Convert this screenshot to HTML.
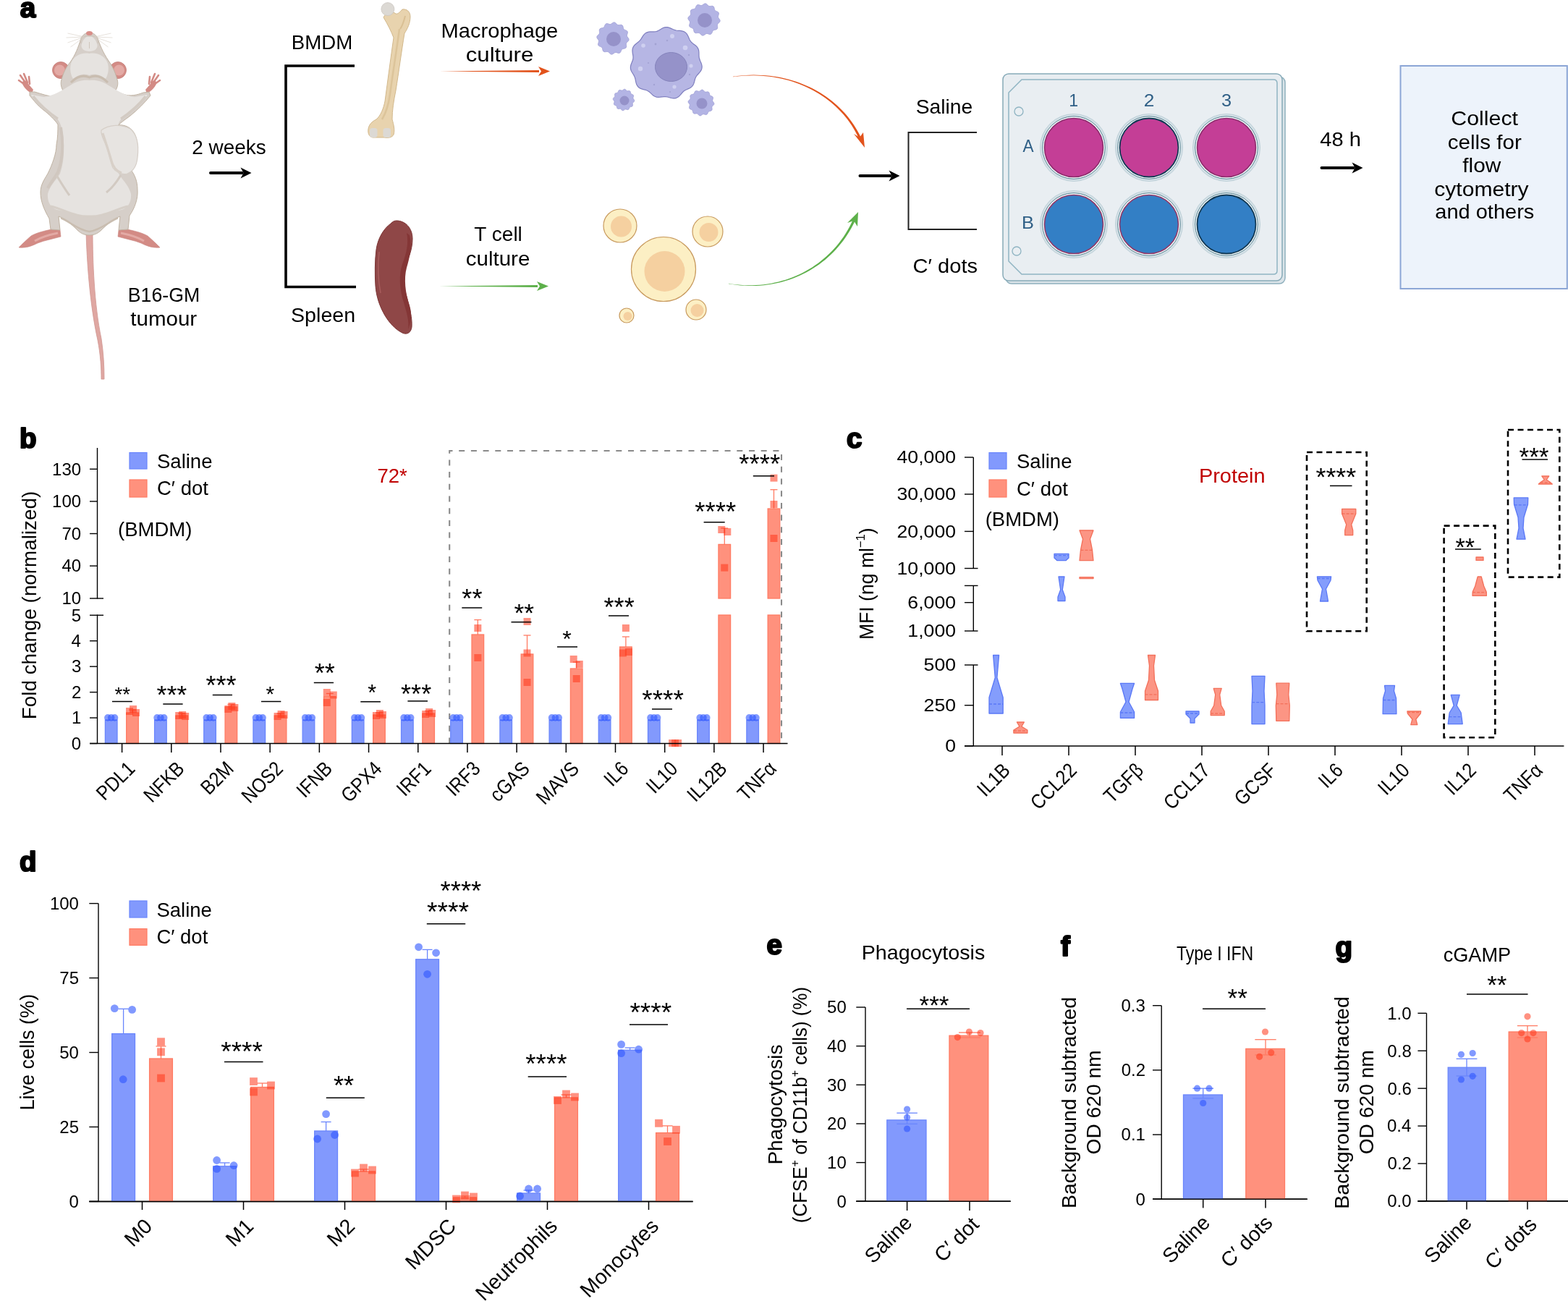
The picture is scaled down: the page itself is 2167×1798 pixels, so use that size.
<!DOCTYPE html>
<html><head><meta charset="utf-8"><title>Figure</title>
<style>html,body{margin:0;padding:0;background:#fff;} svg{display:block;} text{font-family:'Liberation Sans', Arial, Helvetica, sans-serif;}</style>
</head><body>
<svg width="2167" height="1798" viewBox="0 0 2167 1798">
<rect width="2167" height="1798" fill="#fff"/>
<text x="27.80" y="24.00" font-size="38.5" font-weight="bold" stroke="#000" stroke-width="2.2" stroke-linejoin="round">a</text>
<path d="M119,320 C120,360 124,420 135,470 C139,490 140,510 140,524 L144,524 C144,505 143,488 140,468 C130,420 128,360 128,320 Z" fill="#dfa7a2" stroke="#cf9590" stroke-width="0.8" />
<circle cx="84.00" cy="97.00" r="11.50" fill="#d38b85" stroke="#c47d78" stroke-width="0.8" />
<circle cx="163.00" cy="97.00" r="11.50" fill="#d38b85" stroke="#c47d78" stroke-width="0.8" />
<circle cx="82.50" cy="97.00" r="7.50" fill="#e3aaa5" />
<circle cx="164.50" cy="97.00" r="7.50" fill="#e3aaa5" />
<path d="M44,129 C38,126 33,121 31,116 C30,112 34,110 37,113 L40,117 L46,124 Z" fill="#d38b85" />
<line x1="33.00" y1="116.00" x2="26.00" y2="111.00" stroke="#d38b85" stroke-width="2.6" stroke-linecap="round"/>
<line x1="35.00" y1="114.00" x2="28.00" y2="104.00" stroke="#d38b85" stroke-width="2.6" stroke-linecap="round"/>
<line x1="38.00" y1="114.00" x2="33.00" y2="102.00" stroke="#d38b85" stroke-width="2.6" stroke-linecap="round"/>
<line x1="41.00" y1="116.00" x2="40.00" y2="106.00" stroke="#d38b85" stroke-width="2.6" stroke-linecap="round"/>
<path d="M203,129 C209,126 214,121 216,116 C217,112 213,110 210,113 L207,117 L201,124 Z" fill="#d38b85" />
<line x1="214.00" y1="116.00" x2="221.00" y2="111.00" stroke="#d38b85" stroke-width="2.6" stroke-linecap="round"/>
<line x1="212.00" y1="114.00" x2="219.00" y2="104.00" stroke="#d38b85" stroke-width="2.6" stroke-linecap="round"/>
<line x1="209.00" y1="114.00" x2="214.00" y2="102.00" stroke="#d38b85" stroke-width="2.6" stroke-linecap="round"/>
<line x1="206.00" y1="116.00" x2="207.00" y2="106.00" stroke="#d38b85" stroke-width="2.6" stroke-linecap="round"/>
<path d="M71,317 L83,318 L84,327 C74,330 62,332 52,336 C44,340 36,343 26,342 C31,337 37,331 43,326 C52,321 62,319 71,317 Z" fill="#d38b85" stroke="#c88580" stroke-width="0.6" />
<path d="M176,317 L164,318 L163,327 C173,330 185,332 195,336 C203,340 211,343 221,342 C216,337 210,331 204,326 C195,321 185,319 176,317 Z" fill="#d38b85" stroke="#c88580" stroke-width="0.6" />
<path d="M80,322 C70,324 58,327 48,333" fill="none" stroke="#e3aaa5" stroke-width="3" />
<path d="M167,322 C177,324 189,327 199,333" fill="none" stroke="#e3aaa5" stroke-width="3" />
<path d="M123.5,45 C128,45 133,48 135,53 C138,62 142,72 150,84 C156,92 160,102 162,110 C164,116 162,122 159,126 L170,130 C180,134 190,131 198,128 L206,127 L208,132 C200,142 190,152 180,160 C172,166 166,170 164,173 C172,172 184,176 188,190 C192,205 191,225 182,236 C186,242 190,250 190,262 C191,275 186,288 179,298 L177,317 L164,318 L166,299 C158,302 148,310 140,318 C134,324 128,325 123.5,325 C119,325 113,324 107,318 C99,310 89,302 81,299 L83,318 L70,317 L68,302 C61,290 56,278 56,266 C56,256 60,250 66,240 C72,228 78,212 78,200 C80,190 80,180 80,172 C76,166 68,158 60,152 C52,146 46,138 41,132 L41,127 L48,127 C58,130 66,133 77,134 L88,127 C85,122 83,116 85,110 C87,102 91,93 97,86 C104,76 108,66 112,53 C114,48 119,45 123.5,45 Z" fill="#d6cfc9" stroke="#c0b3a3" stroke-width="1" />
<path d="M123.5,50 C129,50 133,56 134.5,62 C135,67 131,71 123.5,71 C116,71 112,67 112.5,62 C114,56 118,50 123.5,50 Z" fill="#e6e3e0" />
<path d="M123.5,74 C135,72 146,78 149,88 C151,96 149,104 146,109 C140,104 131,101 123.5,104 C116,101 107,104 101,109 C98,104 96,96 98,88 C101,78 112,72 123.5,74 Z" fill="#e6e3e0" />
<path d="M97,118 C106,112 115,110 123.5,111 C132,110 141,112 150,118 C160,124 172,132 186,134 C194,133 200,131 204,131 C197,140 186,150 174,158 C166,164 162,172 160,186 C158,205 158,222 164,240 C170,250 178,256 181,268 C182,280 176,288 168,290 C155,292 142,298 123.5,299 C105,298 92,292 79,290 C71,288 65,280 66,268 C69,256 77,250 83,240 C89,222 89,205 87,186 C85,172 81,164 73,158 C61,150 50,140 43,131 C47,131 53,133 61,134 C75,132 87,124 97,118 Z" fill="#e6e3e0" />
<path d="M98,114 C106,106 115,103 123.5,107 C132,103 141,106 149,114" fill="none" stroke="#c9bdb0" stroke-width="3" />
<path d="M112,60 C110,52 118,48 123.5,50 C129,48 137,52 135,60" fill="none" stroke="#cfc6bc" stroke-width="1.5" />
<line x1="123.50" y1="58.00" x2="123.50" y2="67.00" stroke="#cfc6bc" stroke-width="1" />
<path d="M46,133 C56,146 68,156 80,164" fill="none" stroke="#d3cbc3" stroke-width="3" />
<path d="M201,133 C191,146 179,156 167,164" fill="none" stroke="#d3cbc3" stroke-width="3" />
<path d="M84,176 C88,200 86,222 80,238 C76,246 70,252 66,260" fill="none" stroke="#d0c7bf" stroke-width="4" />
<path d="M78,242 C84,252 90,262 96,270" fill="none" stroke="#d2cac2" stroke-width="3" />
<path d="M167,242 C161,252 155,260 147,266" fill="none" stroke="#d2cac2" stroke-width="3" />
<path d="M70,285 C90,290 105,300 123.5,299 C142,300 157,290 177,285" fill="none" stroke="#d6cfc8" stroke-width="3" />
<path d="M84,301 C96,306 108,318 123.5,320 C139,318 151,306 163,301" fill="none" stroke="#c9bdb0" stroke-width="2.5" />
<path d="M140,180 C150,172 168,171 180,178 C190,186 192,202 190,218 C189,228 186,236 176,240 C168,242 160,238 156,232 C152,222 150,210 146,200 C143,192 139,186 140,180 Z" fill="#e7e4e1" stroke="#d6cfc8" stroke-width="1.2" />
<path d="M142,184 C146,196 150,208 154,222 C156,230 160,236 168,239" fill="none" stroke="#d8d0c8" stroke-width="3" />
<ellipse cx="123.5" cy="46" rx="4.5" ry="3" fill="#d88e88"/>
<line x1="116.50" y1="51.00" x2="93.50" y2="46.00" stroke="#d5ccc2" stroke-width="0.6" />
<line x1="116.50" y1="51.00" x2="91.50" y2="52.00" stroke="#d5ccc2" stroke-width="0.6" />
<line x1="116.50" y1="51.00" x2="93.50" y2="59.00" stroke="#d5ccc2" stroke-width="0.6" />
<line x1="116.50" y1="51.00" x2="97.50" y2="65.00" stroke="#d5ccc2" stroke-width="0.6" />
<line x1="130.50" y1="51.00" x2="153.50" y2="46.00" stroke="#d5ccc2" stroke-width="0.6" />
<line x1="130.50" y1="51.00" x2="155.50" y2="52.00" stroke="#d5ccc2" stroke-width="0.6" />
<line x1="130.50" y1="51.00" x2="153.50" y2="59.00" stroke="#d5ccc2" stroke-width="0.6" />
<line x1="130.50" y1="51.00" x2="149.50" y2="65.00" stroke="#d5ccc2" stroke-width="0.6" />
<text x="176.81" y="416.70" font-size="27.5" textLength="99.38" lengthAdjust="spacingAndGlyphs" >B16-GM</text>
<text x="180.25" y="450.00" font-size="27.5" textLength="91.94" lengthAdjust="spacingAndGlyphs" >tumour</text>
<text x="265.30" y="212.70" font-size="27.5" textLength="102.41" lengthAdjust="spacingAndGlyphs" >2 weeks</text>
<line x1="291.00" y1="239.00" x2="334.50" y2="239.00" stroke="#000" stroke-width="4" stroke-linecap="round"/>
<path d="M347.5,239 L332.5,231.5 L336.5,239 L332.5,246.5 Z" fill="#000" />
<path d="M490,91 H395 V396.5 H492" fill="none" stroke="#000" stroke-width="3.6" />
<text x="402.73" y="67.70" font-size="27.5" textLength="84.54" lengthAdjust="spacingAndGlyphs" >BMDM</text>
<text x="402.00" y="445.00" font-size="27.5" textLength="89.16" lengthAdjust="spacingAndGlyphs" >Spleen</text>
<path d="M556,13 C562,12 567,16 567,23 C567,32 563,40 559,46 C555,70 551,100 547,125 C544,140 542,152 542,165 C544,172 546,180 544,186 C542,190 537,191 531,190 L515,190 C510,189 508,184 509,178 C510,172 514,168 520,165 C526,160 530,150 532,140 C536,110 540,80 544,52 C541,44 536,34 530,24 C534,16 542,15 547,19 C550,20 553,16 556,13 Z" fill="#e8d3ae" stroke="#d2b88c" stroke-width="1" />
<path d="M552,40 C548,70 543,100 539,130 C537,145 534,155 528,165" fill="none" stroke="#dcc49a" stroke-width="2.5" />
<path d="M560,22 C558,30 556,36 553,40" fill="none" stroke="#d9bf93" stroke-width="2" />
<circle cx="535.90" cy="12.60" r="9.00" fill="#dcd9d4" stroke="#cbc7c1" stroke-width="0.8" />
<rect x="511" y="177" width="10.5" height="13" rx="3.5" fill="#dcd9d4"/>
<rect x="529.5" y="177" width="10.5" height="13" rx="3.5" fill="#dcd9d4"/>
<path d="M548,305 C560,305 570,315 570,330 C570,345 564,358 560,368 C556,378 557,395 562,410 C566,425 570,440 569,452 C568,460 562,463 556,460 C546,455 538,446 532,436 C525,424 520,410 519,395 C518,380 518,360 520,345 C522,330 530,316 540,309 C543,306 545,305 548,305 Z" fill="#8f4747" stroke="#7b3434" stroke-width="1" />
<path d="M562,322 C565,335 562,350 556,365 C551,380 552,400 558,418 C562,432 566,445 564,455 C568,446 570,436 566,422 C560,405 558,385 562,370 C566,356 570,340 566,325 Z" fill="#843636" />
<path d="M524,348 C522,365 522,385 526,405" fill="none" stroke="#a85c5c" stroke-width="1.5" />
<text x="609.61" y="52.00" font-size="27.5" textLength="161.68" lengthAdjust="spacingAndGlyphs" >Macrophage</text>
<text x="643.67" y="85.00" font-size="27.5" textLength="93.71" lengthAdjust="spacingAndGlyphs" >culture</text>
<text x="655.37" y="333.00" font-size="27.5" textLength="66.49" lengthAdjust="spacingAndGlyphs" >T cell</text>
<text x="643.75" y="367.00" font-size="27.5" textLength="88.56" lengthAdjust="spacingAndGlyphs" >culture</text>
<path d="M608,98.5 L745,97 L745,100 Z" fill="#e2531c" />
<path d="M760,98.5 L744,92 L748,98.5 L744,105 Z" fill="#e2531c" />
<path d="M607,395.5 L743,394 L743,397 Z" fill="#5db04a" />
<path d="M758,395.5 L742,389 L746,395.5 L742,402 Z" fill="#5db04a" />
<path d="M968.93,87.00 L969.81,89.61 L970.19,92.27 L969.87,94.90 L968.84,97.38 L967.26,99.66 L965.40,101.75 L963.60,103.74 L962.10,105.75 L961.01,107.90 L960.26,110.24 L959.64,112.74 L958.88,115.25 L957.78,117.59 L956.20,119.60 L954.19,121.19 L951.89,122.42 L949.52,123.46 L947.26,124.53 L945.22,125.84 L943.39,127.52 L941.66,129.51 L939.87,131.63 L937.88,133.57 L935.61,135.05 L933.09,135.86 L930.41,135.96 L927.68,135.49 L925.02,134.74 L922.46,134.01 L920.00,133.58 L917.56,133.54 L915.08,133.82 L912.52,134.20 L909.93,134.39 L907.37,134.13 L904.96,133.29 L902.76,131.90 L900.78,130.16 L898.93,128.34 L897.07,126.72 L895.04,125.44 L892.74,124.53 L890.18,123.83 L887.49,123.11 L884.88,122.12 L882.61,120.67 L880.84,118.71 L879.62,116.34 L878.86,113.71 L878.35,111.04 L877.82,108.49 L877.05,106.12 L875.95,103.91 L874.60,101.75 L873.21,99.54 L872.06,97.19 L871.42,94.69 L871.41,92.11 L871.98,89.52 L872.93,87.00 L873.94,84.59 L874.71,82.24 L875.06,79.88 L874.94,77.42 L874.53,74.82 L874.10,72.09 L873.98,69.33 L874.40,66.70 L875.48,64.31 L877.12,62.24 L879.12,60.45 L881.22,58.82 L883.17,57.18 L884.86,55.36 L886.31,53.31 L887.66,51.08 L889.11,48.85 L890.84,46.86 L892.94,45.33 L895.39,44.38 L898.08,43.97 L900.82,43.92 L903.47,43.95 L905.95,43.75 L908.25,43.13 L910.45,42.06 L912.66,40.68 L914.98,39.26 L917.44,38.15 L920.00,37.58 L922.59,37.67 L925.11,38.34 L927.54,39.38 L929.89,40.49 L932.22,41.40 L934.62,41.99 L937.17,42.28 L939.83,42.46 L942.52,42.81 L945.07,43.58 L947.32,44.93 L949.16,46.86 L950.59,49.22 L951.72,51.77 L952.77,54.23 L953.95,56.43 L955.44,58.30 L957.29,59.91 L959.38,61.43 L961.49,63.04 L963.36,64.91 L964.75,67.08 L965.58,69.51 L965.90,72.09 L965.94,74.69 L965.96,77.23 L966.24,79.68 L966.88,82.07 L967.85,84.49 Z" fill="#b6b6e4" stroke="#7f7fbf" stroke-width="1.2" />
<circle cx="889.00" cy="63.00" r="2.80" fill="#cfd0f0" />
<circle cx="929.00" cy="50.00" r="3.00" fill="#cfd0f0" />
<circle cx="947.00" cy="66.00" r="3.30" fill="#cfd0f0" />
<circle cx="885.00" cy="95.00" r="3.20" fill="#cfd0f0" />
<circle cx="955.00" cy="91.00" r="2.60" fill="#cfd0f0" />
<circle cx="932.00" cy="120.00" r="2.60" fill="#cfd0f0" />
<circle cx="906.00" cy="61.00" r="1.40" fill="#a3a3d3" />
<circle cx="922.00" cy="56.00" r="1.30" fill="#a3a3d3" />
<circle cx="896.00" cy="87.00" r="1.10" fill="#a3a3d3" />
<circle cx="952.00" cy="76.00" r="1.20" fill="#a3a3d3" />
<circle cx="953.00" cy="103.00" r="1.20" fill="#a3a3d3" />
<circle cx="904.00" cy="117.00" r="1.20" fill="#a3a3d3" />
<circle cx="926.00" cy="127.00" r="1.10" fill="#a3a3d3" />
<ellipse cx="927.5" cy="92.5" rx="22" ry="20" fill="#9592c9" stroke="#8483bb" stroke-width="1"/>
<path d="M868.60,53.00 L869.11,54.16 L869.12,55.32 L868.60,56.42 L867.70,57.40 L866.70,58.28 L865.89,59.14 L865.45,60.08 L865.39,61.19 L865.57,62.46 L865.71,63.80 L865.57,65.06 L864.99,66.07 L863.99,66.76 L862.73,67.16 L861.42,67.42 L860.29,67.76 L859.44,68.36 L858.84,69.29 L858.35,70.48 L857.80,71.71 L857.05,72.73 L856.05,73.32 L854.84,73.41 L853.54,73.13 L852.28,72.70 L851.13,72.43 L850.09,72.52 L849.10,73.02 L848.09,73.81 L847.00,74.60 L845.84,75.11 L844.68,75.12 L843.58,74.60 L842.60,73.70 L841.72,72.70 L840.86,71.89 L839.92,71.45 L838.81,71.39 L837.54,71.57 L836.20,71.71 L834.94,71.57 L833.93,70.99 L833.24,69.99 L832.84,68.73 L832.58,67.42 L832.24,66.29 L831.64,65.44 L830.71,64.84 L829.52,64.35 L828.29,63.80 L827.27,63.05 L826.68,62.05 L826.59,60.84 L826.87,59.54 L827.30,58.28 L827.57,57.13 L827.48,56.09 L826.98,55.10 L826.19,54.09 L825.40,53.00 L824.89,51.84 L824.88,50.68 L825.40,49.58 L826.30,48.60 L827.30,47.72 L828.11,46.86 L828.55,45.92 L828.61,44.81 L828.43,43.54 L828.29,42.20 L828.43,40.94 L829.01,39.93 L830.01,39.24 L831.27,38.84 L832.58,38.58 L833.71,38.24 L834.56,37.64 L835.16,36.71 L835.65,35.52 L836.20,34.29 L836.95,33.27 L837.95,32.68 L839.16,32.59 L840.46,32.87 L841.72,33.30 L842.87,33.57 L843.91,33.48 L844.90,32.98 L845.91,32.19 L847.00,31.40 L848.16,30.89 L849.32,30.88 L850.42,31.40 L851.40,32.30 L852.28,33.30 L853.14,34.11 L854.08,34.55 L855.19,34.61 L856.46,34.43 L857.80,34.29 L859.06,34.43 L860.07,35.01 L860.76,36.01 L861.16,37.27 L861.42,38.58 L861.76,39.71 L862.36,40.56 L863.29,41.16 L864.48,41.65 L865.71,42.20 L866.73,42.95 L867.32,43.95 L867.41,45.16 L867.13,46.46 L866.70,47.72 L866.43,48.87 L866.52,49.91 L867.02,50.90 L867.81,51.91 Z" fill="#b3b4e4" stroke="#a0a0d6" stroke-width="0.8" />
<circle cx="848.00" cy="54.00" r="10.00" fill="#9592c9" />
<path d="M994.60,27.00 L995.11,28.16 L995.12,29.32 L994.60,30.42 L993.70,31.40 L992.70,32.28 L991.89,33.14 L991.45,34.08 L991.39,35.19 L991.57,36.46 L991.71,37.80 L991.57,39.06 L990.99,40.07 L989.99,40.76 L988.73,41.16 L987.42,41.42 L986.29,41.76 L985.44,42.36 L984.84,43.29 L984.35,44.48 L983.80,45.71 L983.05,46.73 L982.05,47.32 L980.84,47.41 L979.54,47.13 L978.28,46.70 L977.13,46.43 L976.09,46.52 L975.10,47.02 L974.09,47.81 L973.00,48.60 L971.84,49.11 L970.68,49.12 L969.58,48.60 L968.60,47.70 L967.72,46.70 L966.86,45.89 L965.92,45.45 L964.81,45.39 L963.54,45.57 L962.20,45.71 L960.94,45.57 L959.93,44.99 L959.24,43.99 L958.84,42.73 L958.58,41.42 L958.24,40.29 L957.64,39.44 L956.71,38.84 L955.52,38.35 L954.29,37.80 L953.27,37.05 L952.68,36.05 L952.59,34.84 L952.87,33.54 L953.30,32.28 L953.57,31.13 L953.48,30.09 L952.98,29.10 L952.19,28.09 L951.40,27.00 L950.89,25.84 L950.88,24.68 L951.40,23.58 L952.30,22.60 L953.30,21.72 L954.11,20.86 L954.55,19.92 L954.61,18.81 L954.43,17.54 L954.29,16.20 L954.43,14.94 L955.01,13.93 L956.01,13.24 L957.27,12.84 L958.58,12.58 L959.71,12.24 L960.56,11.64 L961.16,10.71 L961.65,9.52 L962.20,8.29 L962.95,7.27 L963.95,6.68 L965.16,6.59 L966.46,6.87 L967.72,7.30 L968.87,7.57 L969.91,7.48 L970.90,6.98 L971.91,6.19 L973.00,5.40 L974.16,4.89 L975.32,4.88 L976.42,5.40 L977.40,6.30 L978.28,7.30 L979.14,8.11 L980.08,8.55 L981.19,8.61 L982.46,8.43 L983.80,8.29 L985.06,8.43 L986.07,9.01 L986.76,10.01 L987.16,11.27 L987.42,12.58 L987.76,13.71 L988.36,14.56 L989.29,15.16 L990.48,15.65 L991.71,16.20 L992.73,16.95 L993.32,17.95 L993.41,19.16 L993.13,20.46 L992.70,21.72 L992.43,22.87 L992.52,23.91 L993.02,24.90 L993.81,25.91 Z" fill="#b3b4e4" stroke="#a0a0d6" stroke-width="0.8" />
<circle cx="974.00" cy="28.00" r="10.00" fill="#9592c9" />
<path d="M876.40,138.00 L876.74,138.77 L876.74,139.55 L876.40,140.28 L875.80,140.93 L875.13,141.52 L874.59,142.09 L874.30,142.72 L874.26,143.46 L874.38,144.31 L874.47,145.20 L874.38,146.04 L873.99,146.71 L873.33,147.17 L872.48,147.44 L871.61,147.61 L870.86,147.84 L870.29,148.24 L869.89,148.86 L869.57,149.65 L869.20,150.47 L868.70,151.15 L868.03,151.54 L867.22,151.61 L866.36,151.42 L865.52,151.13 L864.75,150.95 L864.06,151.01 L863.40,151.35 L862.73,151.87 L862.00,152.40 L861.23,152.74 L860.45,152.74 L859.72,152.40 L859.07,151.80 L858.48,151.13 L857.91,150.59 L857.28,150.30 L856.54,150.26 L855.69,150.38 L854.80,150.47 L853.96,150.38 L853.29,149.99 L852.83,149.33 L852.56,148.48 L852.39,147.61 L852.16,146.86 L851.76,146.29 L851.14,145.89 L850.35,145.57 L849.53,145.20 L848.85,144.70 L848.46,144.03 L848.39,143.22 L848.58,142.36 L848.87,141.52 L849.05,140.75 L848.99,140.06 L848.65,139.40 L848.13,138.73 L847.60,138.00 L847.26,137.23 L847.26,136.45 L847.60,135.72 L848.20,135.07 L848.87,134.48 L849.41,133.91 L849.70,133.28 L849.74,132.54 L849.62,131.69 L849.53,130.80 L849.62,129.96 L850.01,129.29 L850.67,128.83 L851.52,128.56 L852.39,128.39 L853.14,128.16 L853.71,127.76 L854.11,127.14 L854.43,126.35 L854.80,125.53 L855.30,124.85 L855.97,124.46 L856.78,124.39 L857.64,124.58 L858.48,124.87 L859.25,125.05 L859.94,124.99 L860.60,124.65 L861.27,124.13 L862.00,123.60 L862.77,123.26 L863.55,123.26 L864.28,123.60 L864.93,124.20 L865.52,124.87 L866.09,125.41 L866.72,125.70 L867.46,125.74 L868.31,125.62 L869.20,125.53 L870.04,125.62 L870.71,126.01 L871.17,126.67 L871.44,127.52 L871.61,128.39 L871.84,129.14 L872.24,129.71 L872.86,130.11 L873.65,130.43 L874.47,130.80 L875.15,131.30 L875.54,131.97 L875.61,132.78 L875.42,133.64 L875.13,134.48 L874.95,135.25 L875.01,135.94 L875.35,136.60 L875.87,137.27 Z" fill="#b3b4e4" stroke="#a0a0d6" stroke-width="0.8" />
<circle cx="863.00" cy="139.00" r="6.50" fill="#9592c9" />
<path d="M986.49,142.00 L986.90,142.94 L986.90,143.88 L986.48,144.77 L985.76,145.56 L984.95,146.27 L984.29,146.97 L983.94,147.73 L983.89,148.63 L984.03,149.66 L984.15,150.74 L984.03,151.76 L983.56,152.58 L982.76,153.14 L981.73,153.46 L980.68,153.68 L979.76,153.95 L979.07,154.43 L978.58,155.19 L978.19,156.15 L977.74,157.15 L977.14,157.97 L976.32,158.45 L975.34,158.52 L974.29,158.29 L973.27,157.95 L972.34,157.73 L971.50,157.80 L970.70,158.21 L969.88,158.85 L969.00,159.49 L968.06,159.90 L967.12,159.90 L966.23,159.48 L965.44,158.76 L964.73,157.95 L964.03,157.29 L963.27,156.94 L962.37,156.89 L961.34,157.03 L960.26,157.15 L959.24,157.03 L958.42,156.56 L957.86,155.76 L957.54,154.73 L957.32,153.68 L957.05,152.76 L956.57,152.07 L955.81,151.58 L954.85,151.19 L953.85,150.74 L953.03,150.14 L952.55,149.32 L952.48,148.34 L952.71,147.29 L953.05,146.27 L953.27,145.34 L953.20,144.50 L952.79,143.70 L952.15,142.88 L951.51,142.00 L951.10,141.06 L951.10,140.12 L951.52,139.23 L952.24,138.44 L953.05,137.73 L953.71,137.03 L954.06,136.27 L954.11,135.37 L953.97,134.34 L953.85,133.26 L953.97,132.24 L954.44,131.42 L955.24,130.86 L956.27,130.54 L957.32,130.32 L958.24,130.05 L958.93,129.57 L959.42,128.81 L959.81,127.85 L960.26,126.85 L960.86,126.03 L961.68,125.55 L962.66,125.48 L963.71,125.71 L964.73,126.05 L965.66,126.27 L966.50,126.20 L967.30,125.79 L968.12,125.15 L969.00,124.51 L969.94,124.10 L970.88,124.10 L971.77,124.52 L972.56,125.24 L973.27,126.05 L973.97,126.71 L974.73,127.06 L975.63,127.11 L976.66,126.97 L977.74,126.85 L978.76,126.97 L979.58,127.44 L980.14,128.24 L980.46,129.27 L980.68,130.32 L980.95,131.24 L981.43,131.93 L982.19,132.42 L983.15,132.81 L984.15,133.26 L984.97,133.86 L985.45,134.68 L985.52,135.66 L985.29,136.71 L984.95,137.73 L984.73,138.66 L984.80,139.50 L985.21,140.30 L985.85,141.12 Z" fill="#b3b4e4" stroke="#a0a0d6" stroke-width="0.8" />
<circle cx="970.00" cy="143.00" r="7.50" fill="#9592c9" />
<circle cx="917.00" cy="372.00" r="44.50" fill="#fcefc4" stroke="#c89a5e" stroke-width="1.2" />
<circle cx="918.50" cy="375.00" r="28.00" fill="#f5d0a0" />
<circle cx="857.00" cy="312.00" r="23.00" fill="#fcefc4" stroke="#c89a5e" stroke-width="1.2" />
<circle cx="858.50" cy="313.00" r="14.50" fill="#f5d0a0" />
<circle cx="978.00" cy="320.00" r="21.00" fill="#fcefc4" stroke="#c89a5e" stroke-width="1.2" />
<circle cx="979.50" cy="321.00" r="13.00" fill="#f5d0a0" />
<circle cx="866.00" cy="436.00" r="10.00" fill="#fcefc4" stroke="#c89a5e" stroke-width="1.2" />
<circle cx="867.50" cy="437.00" r="6.00" fill="#f5d0a0" />
<circle cx="962.00" cy="428.00" r="14.00" fill="#fcefc4" stroke="#c89a5e" stroke-width="1.2" />
<circle cx="963.50" cy="429.00" r="9.00" fill="#f5d0a0" />
<path d="M1013.03,106.20 L1018.79,105.49 L1024.52,104.96 L1030.21,104.60 L1035.86,104.40 L1041.48,104.37 L1047.05,104.49 L1052.57,104.78 L1058.04,105.23 L1063.45,105.83 L1068.81,106.59 L1074.11,107.50 L1079.34,108.56 L1084.50,109.77 L1089.59,111.12 L1094.61,112.62 L1099.55,114.26 L1104.42,116.03 L1109.19,117.95 L1113.88,120.00 L1118.48,122.18 L1122.99,124.50 L1127.40,126.95 L1131.71,129.52 L1135.91,132.21 L1140.01,135.03 L1144.00,137.98 L1147.87,141.03 L1151.63,144.21 L1155.28,147.50 L1158.79,150.91 L1162.19,154.42 L1165.45,158.04 L1168.58,161.77 L1171.58,165.60 L1174.44,169.54 L1177.16,173.57 L1179.73,177.71 L1182.15,181.94 L1184.43,186.26 L1186.55,190.68 L1189.45,189.32 L1187.21,184.83 L1184.82,180.44 L1182.28,176.15 L1179.59,171.97 L1176.76,167.89 L1173.79,163.91 L1170.68,160.05 L1167.43,156.29 L1164.05,152.65 L1160.55,149.13 L1156.92,145.72 L1153.18,142.42 L1149.31,139.25 L1145.33,136.20 L1141.24,133.27 L1137.05,130.47 L1132.75,127.80 L1128.35,125.26 L1123.86,122.84 L1119.27,120.57 L1114.59,118.42 L1109.82,116.41 L1104.97,114.54 L1100.05,112.82 L1095.04,111.23 L1089.96,109.79 L1084.81,108.49 L1079.59,107.35 L1074.31,106.35 L1068.97,105.50 L1063.57,104.81 L1058.12,104.27 L1052.62,103.89 L1047.07,103.67 L1041.48,103.62 L1035.85,103.72 L1030.18,103.99 L1024.47,104.42 L1018.73,105.03 L1012.97,105.80 Z" fill="#e2531c" />
<path d="M1195,204 L1180,185 L1188,190 L1193,183 Z" fill="#e2531c" />
<path d="M1006.97,392.20 L1012.43,393.12 L1017.89,393.86 L1023.33,394.43 L1028.76,394.82 L1034.16,395.04 L1039.53,395.08 L1044.87,394.96 L1050.18,394.66 L1055.45,394.20 L1060.69,393.58 L1065.88,392.79 L1071.02,391.83 L1076.11,390.72 L1081.15,389.45 L1086.12,388.02 L1091.04,386.43 L1095.89,384.69 L1100.68,382.79 L1105.39,380.75 L1110.03,378.55 L1114.59,376.21 L1119.06,373.72 L1123.45,371.09 L1127.75,368.31 L1131.96,365.39 L1136.07,362.33 L1140.08,359.13 L1143.99,355.79 L1147.79,352.32 L1151.47,348.72 L1155.05,344.98 L1158.50,341.11 L1161.83,337.12 L1165.04,332.99 L1168.12,328.74 L1171.07,324.37 L1173.88,319.87 L1176.55,315.26 L1179.07,310.52 L1181.45,305.67 L1178.55,304.33 L1176.28,309.11 L1173.86,313.79 L1171.30,318.35 L1168.61,322.80 L1165.77,327.13 L1162.81,331.34 L1159.71,335.43 L1156.49,339.40 L1153.15,343.25 L1149.68,346.97 L1146.10,350.57 L1142.41,354.03 L1138.61,357.37 L1134.70,360.58 L1130.69,363.65 L1126.58,366.59 L1122.38,369.39 L1118.08,372.05 L1113.69,374.57 L1109.22,376.95 L1104.67,379.18 L1100.03,381.27 L1095.32,383.20 L1090.54,384.99 L1085.69,386.63 L1080.78,388.12 L1075.80,389.45 L1070.76,390.62 L1065.67,391.63 L1060.53,392.49 L1055.34,393.18 L1050.11,393.71 L1044.83,394.07 L1039.52,394.26 L1034.17,394.29 L1028.79,394.14 L1023.38,393.82 L1017.95,393.32 L1012.50,392.65 L1007.03,391.80 Z" fill="#5db04a" />
<path d="M1186,293 L1185,313 L1180,305 L1171,308 Z" fill="#5db04a" />
<line x1="1188.50" y1="243.00" x2="1230.50" y2="243.00" stroke="#000" stroke-width="4" stroke-linecap="round"/>
<path d="M1243.5,243 L1228.5,235.5 L1232.5,243 L1228.5,250.5 Z" fill="#000" />
<path d="M1350,183 H1255.5 V317 H1350" fill="none" stroke="#222" stroke-width="2" />
<text x="1265.72" y="157.00" font-size="27.5" textLength="78.54" lengthAdjust="spacingAndGlyphs" >Saline</text>
<text x="1261.52" y="377.00" font-size="27.5" textLength="89.53" lengthAdjust="spacingAndGlyphs" >C′ dots</text>
<rect x="1390.00" y="106.00" width="386.00" height="286.00" fill="#dbe4e9" stroke="#8fb0bd" stroke-width="1.5" rx="8"/>
<rect x="1386.00" y="102.00" width="386.00" height="286.00" fill="#e8edf1" stroke="#86aab8" stroke-width="1.5" rx="8"/>
<path d="M1412,110 L1760,110 Q1765,110 1765,115 L1765,374 Q1765,379 1760,379 L1412,379 L1394,361 L1394,128 Z" fill="#e9eef2" stroke="#8fb4c2" stroke-width="1.5" />
<circle cx="1408.00" cy="154.00" r="6.00" fill="none" stroke="#8fb4c2" stroke-width="1.3" />
<circle cx="1405.00" cy="347.00" r="6.00" fill="none" stroke="#8fb4c2" stroke-width="1.3" />
<circle cx="1484.00" cy="204.00" r="46.50" fill="#d3e0e6" stroke="#bfd1d9" stroke-width="1" />
<circle cx="1484.00" cy="204.00" r="43.30" fill="#f4f8fa" stroke="#4a7888" stroke-width="0.9" />
<circle cx="1484.00" cy="204.00" r="40.50" fill="#c43e96" stroke="#8e2d6d" stroke-width="1.6" />
<circle cx="1484.00" cy="310.00" r="46.50" fill="#d3e0e6" stroke="#bfd1d9" stroke-width="1" />
<circle cx="1484.00" cy="310.00" r="43.30" fill="#f4f8fa" stroke="#4a7888" stroke-width="0.9" />
<circle cx="1484.00" cy="310.00" r="40.50" fill="#337fc5" stroke="#8e3a6a" stroke-width="1.6" />
<circle cx="1588.00" cy="204.00" r="46.50" fill="#d3e0e6" stroke="#bfd1d9" stroke-width="1" />
<circle cx="1588.00" cy="204.00" r="43.30" fill="#f4f8fa" stroke="#4a7888" stroke-width="0.9" />
<circle cx="1588.00" cy="204.00" r="40.50" fill="#c43e96" stroke="#123a55" stroke-width="1.8" />
<circle cx="1588.00" cy="310.00" r="46.50" fill="#d3e0e6" stroke="#bfd1d9" stroke-width="1" />
<circle cx="1588.00" cy="310.00" r="43.30" fill="#f4f8fa" stroke="#4a7888" stroke-width="0.9" />
<circle cx="1588.00" cy="310.00" r="40.50" fill="#337fc5" stroke="#8e3a6a" stroke-width="1.6" />
<circle cx="1695.00" cy="204.00" r="46.50" fill="#d3e0e6" stroke="#bfd1d9" stroke-width="1" />
<circle cx="1695.00" cy="204.00" r="43.30" fill="#f4f8fa" stroke="#4a7888" stroke-width="0.9" />
<circle cx="1695.00" cy="204.00" r="40.50" fill="#c43e96" stroke="#8e2d6d" stroke-width="1.6" />
<circle cx="1695.00" cy="310.00" r="46.50" fill="#d3e0e6" stroke="#bfd1d9" stroke-width="1" />
<circle cx="1695.00" cy="310.00" r="43.30" fill="#f4f8fa" stroke="#4a7888" stroke-width="0.9" />
<circle cx="1695.00" cy="310.00" r="40.50" fill="#337fc5" stroke="#123a55" stroke-width="1.8" />
<text x="1477.23" y="147.00" font-size="24" fill="#2f5f86" textLength="12.90" lengthAdjust="spacingAndGlyphs" >1</text>
<text x="1580.68" y="147.00" font-size="24" fill="#2f5f86" textLength="14.65" lengthAdjust="spacingAndGlyphs" >2</text>
<text x="1688.04" y="147.00" font-size="24" fill="#2f5f86" textLength="14.08" lengthAdjust="spacingAndGlyphs" >3</text>
<text x="1413.46" y="209.50" font-size="24" fill="#2f5f86" textLength="15.09" lengthAdjust="spacingAndGlyphs" >A</text>
<text x="1411.92" y="315.50" font-size="24" fill="#2f5f86" textLength="16.92" lengthAdjust="spacingAndGlyphs" >B</text>
<text x="1824.33" y="202.00" font-size="27.5" textLength="56.55" lengthAdjust="spacingAndGlyphs" >48 h</text>
<line x1="1826.50" y1="232.00" x2="1870.50" y2="232.00" stroke="#000" stroke-width="4" stroke-linecap="round"/>
<path d="M1883.5,232 L1868.5,224.5 L1872.5,232 L1868.5,239.5 Z" fill="#000" />
<rect x="1935.50" y="91.00" width="230.30" height="308.00" fill="#edf3fb" stroke="#8ca6d6" stroke-width="2" />
<text x="2005.36" y="173.00" font-size="27.5" textLength="92.66" lengthAdjust="spacingAndGlyphs" >Collect</text>
<text x="2000.74" y="206.00" font-size="27.5" textLength="102.05" lengthAdjust="spacingAndGlyphs" >cells for</text>
<text x="2021.28" y="238.00" font-size="27.5" textLength="53.05" lengthAdjust="spacingAndGlyphs" >flow</text>
<text x="1982.22" y="271.00" font-size="27.5" textLength="130.44" lengthAdjust="spacingAndGlyphs" >cytometry</text>
<text x="1983.27" y="302.00" font-size="27.5" textLength="137.08" lengthAdjust="spacingAndGlyphs" >and others</text>
<text x="27.00" y="619.00" font-size="38.5" font-weight="bold" stroke="#000" stroke-width="2.2" stroke-linejoin="round">b</text>
<line x1="124.00" y1="648.30" x2="134.50" y2="648.30" stroke="#000" stroke-width="1.4" />
<text x="112.14" y="656.62" font-size="24" text-anchor="end" >130</text>
<line x1="124.00" y1="692.90" x2="134.50" y2="692.90" stroke="#000" stroke-width="1.4" />
<text x="112.14" y="701.22" font-size="24" text-anchor="end" >100</text>
<line x1="124.00" y1="737.50" x2="134.50" y2="737.50" stroke="#000" stroke-width="1.4" />
<text x="112.14" y="745.82" font-size="24" text-anchor="end" >70</text>
<line x1="124.00" y1="782.10" x2="134.50" y2="782.10" stroke="#000" stroke-width="1.4" />
<text x="112.14" y="790.42" font-size="24" text-anchor="end" >40</text>
<line x1="124.00" y1="827.00" x2="143.00" y2="827.00" stroke="#000" stroke-width="1.4" />
<text x="112.14" y="835.32" font-size="24" text-anchor="end" >10</text>
<line x1="124.00" y1="1027.50" x2="134.50" y2="1027.50" stroke="#000" stroke-width="1.4" />
<text x="112.14" y="1035.82" font-size="24" text-anchor="end" >0</text>
<line x1="124.00" y1="992.05" x2="134.50" y2="992.05" stroke="#000" stroke-width="1.4" />
<text x="112.37" y="1000.37" font-size="24" text-anchor="end" >1</text>
<line x1="124.00" y1="956.60" x2="134.50" y2="956.60" stroke="#000" stroke-width="1.4" />
<text x="112.41" y="964.92" font-size="24" text-anchor="end" >2</text>
<line x1="124.00" y1="921.15" x2="134.50" y2="921.15" stroke="#000" stroke-width="1.4" />
<text x="112.25" y="929.47" font-size="24" text-anchor="end" >3</text>
<line x1="124.00" y1="885.70" x2="134.50" y2="885.70" stroke="#000" stroke-width="1.4" />
<text x="111.90" y="894.02" font-size="24" text-anchor="end" >4</text>
<line x1="124.00" y1="850.25" x2="143.00" y2="850.25" stroke="#000" stroke-width="1.4" />
<text x="112.21" y="858.57" font-size="24" text-anchor="end" >5</text>
<text x="49.70" y="836.50" font-size="28.5" text-anchor="middle" textLength="315.40" lengthAdjust="spacingAndGlyphs" transform="rotate(-90 49.70 836.50)" >Fold change (normalized)</text>
<path d="M621.2 1027.5 V623 H1080 V1027.5" fill="none" stroke="#8a8a8a" stroke-width="2.1" stroke-dasharray="8 8.7"/>
<line x1="168.60" y1="1027.50" x2="168.60" y2="1040.00" stroke="#000" stroke-width="1.5" />
<rect x="145.40" y="995.00" width="16.60" height="32.50" fill="#8299fd" stroke="#6a86fc" stroke-width="1.3" />
<circle cx="148.90" cy="991.90" r="4.80" fill="rgba(45,85,255,0.6)" />
<circle cx="153.70" cy="991.90" r="4.80" fill="rgba(45,85,255,0.6)" />
<circle cx="158.50" cy="991.90" r="4.80" fill="rgba(45,85,255,0.6)" />
<rect x="174.70" y="985.00" width="16.60" height="42.50" fill="#ff917d" stroke="#ff7b63" stroke-width="1.3" />
<line x1="183.00" y1="985.00" x2="183.00" y2="981.00" stroke="#ff7b63" stroke-width="1.3" />
<line x1="178.00" y1="981.00" x2="188.00" y2="981.00" stroke="#ff7b63" stroke-width="1.3" />
<rect x="174.00" y="978.00" width="10.00" height="10.00" fill="rgba(255,55,25,0.55)" />
<rect x="179.00" y="975.00" width="10.00" height="10.00" fill="rgba(255,55,25,0.55)" />
<rect x="183.00" y="980.00" width="10.00" height="10.00" fill="rgba(255,55,25,0.55)" />
<text x="188.20" y="1064.00" font-size="28" text-anchor="end" textLength="61.64" lengthAdjust="spacingAndGlyphs" transform="rotate(-45 188.20 1064.00)" >PDL1</text>
<line x1="236.79" y1="1027.50" x2="236.79" y2="1040.00" stroke="#000" stroke-width="1.5" />
<rect x="213.59" y="995.00" width="16.60" height="32.50" fill="#8299fd" stroke="#6a86fc" stroke-width="1.3" />
<circle cx="217.09" cy="991.90" r="4.80" fill="rgba(45,85,255,0.6)" />
<circle cx="221.89" cy="991.90" r="4.80" fill="rgba(45,85,255,0.6)" />
<circle cx="226.69" cy="991.90" r="4.80" fill="rgba(45,85,255,0.6)" />
<rect x="242.89" y="989.00" width="16.60" height="38.50" fill="#ff917d" stroke="#ff7b63" stroke-width="1.3" />
<line x1="251.19" y1="989.00" x2="251.19" y2="986.00" stroke="#ff7b63" stroke-width="1.3" />
<line x1="246.19" y1="986.00" x2="256.19" y2="986.00" stroke="#ff7b63" stroke-width="1.3" />
<rect x="242.19" y="984.00" width="10.00" height="10.00" fill="rgba(255,55,25,0.55)" />
<rect x="247.19" y="983.00" width="10.00" height="10.00" fill="rgba(255,55,25,0.55)" />
<rect x="251.19" y="985.00" width="10.00" height="10.00" fill="rgba(255,55,25,0.55)" />
<text x="256.39" y="1064.00" font-size="28" text-anchor="end" textLength="65.71" lengthAdjust="spacingAndGlyphs" transform="rotate(-45 256.39 1064.00)" >NFKB</text>
<line x1="304.98" y1="1027.50" x2="304.98" y2="1040.00" stroke="#000" stroke-width="1.5" />
<rect x="281.78" y="995.00" width="16.60" height="32.50" fill="#8299fd" stroke="#6a86fc" stroke-width="1.3" />
<circle cx="285.28" cy="991.90" r="4.80" fill="rgba(45,85,255,0.6)" />
<circle cx="290.08" cy="991.90" r="4.80" fill="rgba(45,85,255,0.6)" />
<circle cx="294.88" cy="991.90" r="4.80" fill="rgba(45,85,255,0.6)" />
<rect x="311.08" y="977.00" width="16.60" height="50.50" fill="#ff917d" stroke="#ff7b63" stroke-width="1.3" />
<line x1="319.38" y1="977.00" x2="319.38" y2="973.50" stroke="#ff7b63" stroke-width="1.3" />
<line x1="314.38" y1="973.50" x2="324.38" y2="973.50" stroke="#ff7b63" stroke-width="1.3" />
<rect x="310.38" y="975.00" width="10.00" height="10.00" fill="rgba(255,55,25,0.55)" />
<rect x="315.38" y="971.00" width="10.00" height="10.00" fill="rgba(255,55,25,0.55)" />
<rect x="319.38" y="973.00" width="10.00" height="10.00" fill="rgba(255,55,25,0.55)" />
<text x="324.58" y="1064.00" font-size="28" text-anchor="end" textLength="50.66" lengthAdjust="spacingAndGlyphs" transform="rotate(-45 324.58 1064.00)" >B2M</text>
<line x1="373.17" y1="1027.50" x2="373.17" y2="1040.00" stroke="#000" stroke-width="1.5" />
<rect x="349.97" y="995.00" width="16.60" height="32.50" fill="#8299fd" stroke="#6a86fc" stroke-width="1.3" />
<circle cx="353.47" cy="991.90" r="4.80" fill="rgba(45,85,255,0.6)" />
<circle cx="358.27" cy="991.90" r="4.80" fill="rgba(45,85,255,0.6)" />
<circle cx="363.07" cy="991.90" r="4.80" fill="rgba(45,85,255,0.6)" />
<rect x="379.27" y="989.00" width="16.60" height="38.50" fill="#ff917d" stroke="#ff7b63" stroke-width="1.3" />
<line x1="387.57" y1="989.00" x2="387.57" y2="986.00" stroke="#ff7b63" stroke-width="1.3" />
<line x1="382.57" y1="986.00" x2="392.57" y2="986.00" stroke="#ff7b63" stroke-width="1.3" />
<rect x="378.57" y="985.00" width="10.00" height="10.00" fill="rgba(255,55,25,0.55)" />
<rect x="383.57" y="982.00" width="10.00" height="10.00" fill="rgba(255,55,25,0.55)" />
<rect x="387.57" y="983.00" width="10.00" height="10.00" fill="rgba(255,55,25,0.55)" />
<text x="392.77" y="1064.00" font-size="28" text-anchor="end" textLength="67.10" lengthAdjust="spacingAndGlyphs" transform="rotate(-45 392.77 1064.00)" >NOS2</text>
<line x1="441.36" y1="1027.50" x2="441.36" y2="1040.00" stroke="#000" stroke-width="1.5" />
<rect x="418.16" y="995.00" width="16.60" height="32.50" fill="#8299fd" stroke="#6a86fc" stroke-width="1.3" />
<circle cx="421.66" cy="991.90" r="4.80" fill="rgba(45,85,255,0.6)" />
<circle cx="426.46" cy="991.90" r="4.80" fill="rgba(45,85,255,0.6)" />
<circle cx="431.26" cy="991.90" r="4.80" fill="rgba(45,85,255,0.6)" />
<rect x="447.46" y="962.70" width="16.60" height="64.80" fill="#ff917d" stroke="#ff7b63" stroke-width="1.3" />
<line x1="455.76" y1="962.70" x2="455.76" y2="958.50" stroke="#ff7b63" stroke-width="1.3" />
<line x1="450.76" y1="958.50" x2="460.76" y2="958.50" stroke="#ff7b63" stroke-width="1.3" />
<rect x="446.76" y="952.00" width="10.00" height="10.00" fill="rgba(255,55,25,0.55)" />
<rect x="455.76" y="955.50" width="10.00" height="10.00" fill="rgba(255,55,25,0.55)" />
<rect x="446.76" y="966.00" width="10.00" height="10.00" fill="rgba(255,55,25,0.55)" />
<text x="460.96" y="1064.00" font-size="28" text-anchor="end" textLength="56.13" lengthAdjust="spacingAndGlyphs" transform="rotate(-45 460.96 1064.00)" >IFNB</text>
<line x1="509.55" y1="1027.50" x2="509.55" y2="1040.00" stroke="#000" stroke-width="1.5" />
<rect x="486.35" y="995.00" width="16.60" height="32.50" fill="#8299fd" stroke="#6a86fc" stroke-width="1.3" />
<circle cx="489.85" cy="991.90" r="4.80" fill="rgba(45,85,255,0.6)" />
<circle cx="494.65" cy="991.90" r="4.80" fill="rgba(45,85,255,0.6)" />
<circle cx="499.45" cy="991.90" r="4.80" fill="rgba(45,85,255,0.6)" />
<rect x="515.65" y="988.00" width="16.60" height="39.50" fill="#ff917d" stroke="#ff7b63" stroke-width="1.3" />
<line x1="523.95" y1="988.00" x2="523.95" y2="985.00" stroke="#ff7b63" stroke-width="1.3" />
<line x1="518.95" y1="985.00" x2="528.95" y2="985.00" stroke="#ff7b63" stroke-width="1.3" />
<rect x="514.95" y="984.00" width="10.00" height="10.00" fill="rgba(255,55,25,0.55)" />
<rect x="519.95" y="981.00" width="10.00" height="10.00" fill="rgba(255,55,25,0.55)" />
<rect x="523.95" y="983.00" width="10.00" height="10.00" fill="rgba(255,55,25,0.55)" />
<text x="529.15" y="1064.00" font-size="28" text-anchor="end" textLength="65.74" lengthAdjust="spacingAndGlyphs" transform="rotate(-45 529.15 1064.00)" >GPX4</text>
<line x1="577.74" y1="1027.50" x2="577.74" y2="1040.00" stroke="#000" stroke-width="1.5" />
<rect x="554.54" y="995.00" width="16.60" height="32.50" fill="#8299fd" stroke="#6a86fc" stroke-width="1.3" />
<circle cx="558.04" cy="991.90" r="4.80" fill="rgba(45,85,255,0.6)" />
<circle cx="562.84" cy="991.90" r="4.80" fill="rgba(45,85,255,0.6)" />
<circle cx="567.64" cy="991.90" r="4.80" fill="rgba(45,85,255,0.6)" />
<rect x="583.84" y="986.00" width="16.60" height="41.50" fill="#ff917d" stroke="#ff7b63" stroke-width="1.3" />
<line x1="592.14" y1="986.00" x2="592.14" y2="982.50" stroke="#ff7b63" stroke-width="1.3" />
<line x1="587.14" y1="982.50" x2="597.14" y2="982.50" stroke="#ff7b63" stroke-width="1.3" />
<rect x="583.14" y="982.00" width="10.00" height="10.00" fill="rgba(255,55,25,0.55)" />
<rect x="588.14" y="979.00" width="10.00" height="10.00" fill="rgba(255,55,25,0.55)" />
<rect x="592.14" y="981.00" width="10.00" height="10.00" fill="rgba(255,55,25,0.55)" />
<text x="597.34" y="1064.00" font-size="28" text-anchor="end" textLength="53.39" lengthAdjust="spacingAndGlyphs" transform="rotate(-45 597.34 1064.00)" >IRF1</text>
<line x1="645.93" y1="1027.50" x2="645.93" y2="1040.00" stroke="#000" stroke-width="1.5" />
<rect x="622.73" y="995.00" width="16.60" height="32.50" fill="#8299fd" stroke="#6a86fc" stroke-width="1.3" />
<circle cx="626.23" cy="991.90" r="4.80" fill="rgba(45,85,255,0.6)" />
<circle cx="631.03" cy="991.90" r="4.80" fill="rgba(45,85,255,0.6)" />
<circle cx="635.83" cy="991.90" r="4.80" fill="rgba(45,85,255,0.6)" />
<rect x="652.03" y="877.00" width="16.60" height="150.50" fill="#ff917d" stroke="#ff7b63" stroke-width="1.3" />
<line x1="660.33" y1="877.00" x2="660.33" y2="856.60" stroke="#ff7b63" stroke-width="1.3" />
<line x1="655.33" y1="856.60" x2="665.33" y2="856.60" stroke="#ff7b63" stroke-width="1.3" />
<rect x="655.33" y="863.00" width="10.00" height="10.00" fill="rgba(255,55,25,0.55)" />
<rect x="655.33" y="904.00" width="10.00" height="10.00" fill="rgba(255,55,25,0.55)" />
<text x="665.53" y="1064.00" font-size="28" text-anchor="end" textLength="53.39" lengthAdjust="spacingAndGlyphs" transform="rotate(-45 665.53 1064.00)" >IRF3</text>
<line x1="714.12" y1="1027.50" x2="714.12" y2="1040.00" stroke="#000" stroke-width="1.5" />
<rect x="690.92" y="995.00" width="16.60" height="32.50" fill="#8299fd" stroke="#6a86fc" stroke-width="1.3" />
<circle cx="694.42" cy="991.90" r="4.80" fill="rgba(45,85,255,0.6)" />
<circle cx="699.22" cy="991.90" r="4.80" fill="rgba(45,85,255,0.6)" />
<circle cx="704.02" cy="991.90" r="4.80" fill="rgba(45,85,255,0.6)" />
<rect x="720.22" y="904.00" width="16.60" height="123.50" fill="#ff917d" stroke="#ff7b63" stroke-width="1.3" />
<line x1="728.52" y1="904.00" x2="728.52" y2="878.00" stroke="#ff7b63" stroke-width="1.3" />
<line x1="723.52" y1="878.00" x2="733.52" y2="878.00" stroke="#ff7b63" stroke-width="1.3" />
<rect x="723.52" y="854.00" width="10.00" height="10.00" fill="rgba(255,55,25,0.55)" />
<rect x="723.52" y="897.50" width="10.00" height="10.00" fill="rgba(255,55,25,0.55)" />
<rect x="723.52" y="938.00" width="10.00" height="10.00" fill="rgba(255,55,25,0.55)" />
<text x="733.72" y="1064.00" font-size="28" text-anchor="end" textLength="64.36" lengthAdjust="spacingAndGlyphs" transform="rotate(-45 733.72 1064.00)" >cGAS</text>
<line x1="782.31" y1="1027.50" x2="782.31" y2="1040.00" stroke="#000" stroke-width="1.5" />
<rect x="759.11" y="995.00" width="16.60" height="32.50" fill="#8299fd" stroke="#6a86fc" stroke-width="1.3" />
<circle cx="762.61" cy="991.90" r="4.80" fill="rgba(45,85,255,0.6)" />
<circle cx="767.41" cy="991.90" r="4.80" fill="rgba(45,85,255,0.6)" />
<circle cx="772.21" cy="991.90" r="4.80" fill="rgba(45,85,255,0.6)" />
<rect x="788.41" y="924.00" width="16.60" height="103.50" fill="#ff917d" stroke="#ff7b63" stroke-width="1.3" />
<line x1="796.71" y1="924.00" x2="796.71" y2="915.00" stroke="#ff7b63" stroke-width="1.3" />
<line x1="791.71" y1="915.00" x2="801.71" y2="915.00" stroke="#ff7b63" stroke-width="1.3" />
<rect x="787.71" y="906.00" width="10.00" height="10.00" fill="rgba(255,55,25,0.55)" />
<rect x="795.71" y="913.00" width="10.00" height="10.00" fill="rgba(255,55,25,0.55)" />
<rect x="791.71" y="933.00" width="10.00" height="10.00" fill="rgba(255,55,25,0.55)" />
<text x="801.91" y="1064.00" font-size="28" text-anchor="end" textLength="69.83" lengthAdjust="spacingAndGlyphs" transform="rotate(-45 801.91 1064.00)" >MAVS</text>
<line x1="850.50" y1="1027.50" x2="850.50" y2="1040.00" stroke="#000" stroke-width="1.5" />
<rect x="827.30" y="995.00" width="16.60" height="32.50" fill="#8299fd" stroke="#6a86fc" stroke-width="1.3" />
<circle cx="830.80" cy="991.90" r="4.80" fill="rgba(45,85,255,0.6)" />
<circle cx="835.60" cy="991.90" r="4.80" fill="rgba(45,85,255,0.6)" />
<circle cx="840.40" cy="991.90" r="4.80" fill="rgba(45,85,255,0.6)" />
<rect x="856.60" y="894.00" width="16.60" height="133.50" fill="#ff917d" stroke="#ff7b63" stroke-width="1.3" />
<line x1="864.90" y1="894.00" x2="864.90" y2="880.00" stroke="#ff7b63" stroke-width="1.3" />
<line x1="859.90" y1="880.00" x2="869.90" y2="880.00" stroke="#ff7b63" stroke-width="1.3" />
<rect x="859.90" y="863.00" width="10.00" height="10.00" fill="rgba(255,55,25,0.55)" />
<rect x="855.90" y="897.50" width="10.00" height="10.00" fill="rgba(255,55,25,0.55)" />
<rect x="863.90" y="896.00" width="10.00" height="10.00" fill="rgba(255,55,25,0.55)" />
<text x="870.10" y="1064.00" font-size="28" text-anchor="end" textLength="34.25" lengthAdjust="spacingAndGlyphs" transform="rotate(-45 870.10 1064.00)" >IL6</text>
<line x1="918.69" y1="1027.50" x2="918.69" y2="1040.00" stroke="#000" stroke-width="1.5" />
<rect x="895.49" y="995.00" width="16.60" height="32.50" fill="#8299fd" stroke="#6a86fc" stroke-width="1.3" />
<circle cx="898.99" cy="991.90" r="4.80" fill="rgba(45,85,255,0.6)" />
<circle cx="903.79" cy="991.90" r="4.80" fill="rgba(45,85,255,0.6)" />
<circle cx="908.59" cy="991.90" r="4.80" fill="rgba(45,85,255,0.6)" />
<rect x="924.09" y="1022.00" width="10.00" height="10.00" fill="rgba(255,55,25,0.55)" />
<rect x="932.09" y="1022.00" width="10.00" height="10.00" fill="rgba(255,55,25,0.55)" />
<rect x="928.09" y="1022.00" width="10.00" height="10.00" fill="rgba(255,55,25,0.55)" />
<text x="938.29" y="1064.00" font-size="28" text-anchor="end" textLength="47.96" lengthAdjust="spacingAndGlyphs" transform="rotate(-45 938.29 1064.00)" >IL10</text>
<line x1="986.88" y1="1027.50" x2="986.88" y2="1040.00" stroke="#000" stroke-width="1.5" />
<rect x="963.68" y="995.00" width="16.60" height="32.50" fill="#8299fd" stroke="#6a86fc" stroke-width="1.3" />
<circle cx="967.18" cy="991.90" r="4.80" fill="rgba(45,85,255,0.6)" />
<circle cx="971.98" cy="991.90" r="4.80" fill="rgba(45,85,255,0.6)" />
<circle cx="976.78" cy="991.90" r="4.80" fill="rgba(45,85,255,0.6)" />
<rect x="992.98" y="850.00" width="16.60" height="177.50" fill="#ff917d" stroke="#ff7b63" stroke-width="1.3" />
<rect x="992.98" y="752.40" width="16.60" height="74.60" fill="#ff917d" stroke="#ff7b63" stroke-width="1.3" />
<line x1="1001.28" y1="752.40" x2="1001.28" y2="730.00" stroke="#ff7b63" stroke-width="1.3" />
<line x1="996.28" y1="730.00" x2="1006.28" y2="730.00" stroke="#ff7b63" stroke-width="1.3" />
<rect x="992.28" y="727.00" width="10.00" height="10.00" fill="rgba(255,55,25,0.55)" />
<rect x="1000.28" y="730.00" width="10.00" height="10.00" fill="rgba(255,55,25,0.55)" />
<rect x="996.28" y="779.60" width="10.00" height="10.00" fill="rgba(255,55,25,0.55)" />
<text x="1006.48" y="1064.00" font-size="28" text-anchor="end" textLength="64.39" lengthAdjust="spacingAndGlyphs" transform="rotate(-45 1006.48 1064.00)" >IL12B</text>
<line x1="1055.07" y1="1027.50" x2="1055.07" y2="1040.00" stroke="#000" stroke-width="1.5" />
<rect x="1031.87" y="995.00" width="16.60" height="32.50" fill="#8299fd" stroke="#6a86fc" stroke-width="1.3" />
<circle cx="1035.37" cy="991.90" r="4.80" fill="rgba(45,85,255,0.6)" />
<circle cx="1040.17" cy="991.90" r="4.80" fill="rgba(45,85,255,0.6)" />
<circle cx="1044.97" cy="991.90" r="4.80" fill="rgba(45,85,255,0.6)" />
<rect x="1061.17" y="850.00" width="16.60" height="177.50" fill="#ff917d" stroke="#ff7b63" stroke-width="1.3" />
<rect x="1061.17" y="703.00" width="16.60" height="124.00" fill="#ff917d" stroke="#ff7b63" stroke-width="1.3" />
<line x1="1069.47" y1="703.00" x2="1069.47" y2="676.70" stroke="#ff7b63" stroke-width="1.3" />
<line x1="1064.47" y1="676.70" x2="1074.47" y2="676.70" stroke="#ff7b63" stroke-width="1.3" />
<rect x="1064.47" y="655.60" width="10.00" height="10.00" fill="rgba(255,55,25,0.55)" />
<rect x="1064.47" y="692.00" width="10.00" height="10.00" fill="rgba(255,55,25,0.55)" />
<rect x="1064.47" y="739.00" width="10.00" height="10.00" fill="rgba(255,55,25,0.55)" />
<text x="1074.67" y="1064.00" font-size="28" text-anchor="end" textLength="62.14" lengthAdjust="spacingAndGlyphs" transform="rotate(-45 1074.67 1064.00)" >TNFα</text>
<text x="158.55" y="969.38" font-size="27.73" >**</text>
<line x1="155.00" y1="969.50" x2="182.80" y2="969.50" stroke="#000" stroke-width="1.5" />
<text x="216.42" y="971.72" font-size="35.92" >***</text>
<line x1="225.30" y1="973.00" x2="252.60" y2="973.00" stroke="#000" stroke-width="1.5" />
<text x="284.42" y="959.64" font-size="36.1" >***</text>
<line x1="293.80" y1="960.50" x2="321.00" y2="960.50" stroke="#000" stroke-width="1.5" />
<text x="367.52" y="969.40" font-size="29.94" >*</text>
<line x1="361.00" y1="969.50" x2="388.30" y2="969.50" stroke="#000" stroke-width="1.5" />
<text x="434.82" y="942.59" font-size="36.03" >**</text>
<line x1="433.80" y1="943.50" x2="461.00" y2="943.50" stroke="#000" stroke-width="1.5" />
<text x="508.31" y="968.18" font-size="30.5" >*</text>
<line x1="498.30" y1="969.80" x2="525.90" y2="969.80" stroke="#000" stroke-width="1.5" />
<text x="554.12" y="971.98" font-size="36.01" >***</text>
<line x1="563.40" y1="968.90" x2="591.00" y2="968.90" stroke="#000" stroke-width="1.5" />
<text x="638.32" y="839.58" font-size="36.16" >**</text>
<line x1="638.30" y1="840.00" x2="666.20" y2="840.00" stroke="#000" stroke-width="1.5" />
<text x="710.43" y="859.32" font-size="35.5" >**</text>
<line x1="706.50" y1="859.70" x2="734.40" y2="859.70" stroke="#000" stroke-width="1.5" />
<text x="777.28" y="893.64" font-size="32.17" >*</text>
<line x1="770.00" y1="894.00" x2="798.00" y2="894.00" stroke="#000" stroke-width="1.5" />
<text x="834.62" y="851.88" font-size="36.01" >***</text>
<line x1="841.00" y1="851.00" x2="869.00" y2="851.00" stroke="#000" stroke-width="1.5" />
<text x="887.30" y="980.05" font-size="36.99" >****</text>
<line x1="901.00" y1="980.00" x2="929.00" y2="980.00" stroke="#000" stroke-width="1.5" />
<text x="960.21" y="719.88" font-size="36.59" >****</text>
<line x1="972.60" y1="721.70" x2="1001.70" y2="721.70" stroke="#000" stroke-width="1.5" />
<text x="1021.31" y="654.18" font-size="36.59" >****</text>
<line x1="1040.80" y1="657.80" x2="1070.00" y2="657.80" stroke="#000" stroke-width="1.5" />
<rect x="179.00" y="625.50" width="24.00" height="22.50" fill="#8299fd" stroke="#6a86fc" stroke-width="1.2" />
<rect x="179.00" y="663.00" width="24.00" height="24.00" fill="#ff917d" stroke="#ff7b63" stroke-width="1.2" />
<text x="217.00" y="646.60" font-size="27.5" >Saline</text>
<text x="217.00" y="684.00" font-size="27.5" >C′ dot</text>
<text x="521.50" y="667.00" font-size="27.5" fill="#c00000" >72*</text>
<line x1="134.50" y1="619.00" x2="134.50" y2="827.50" stroke="#000" stroke-width="1.4" />
<line x1="134.50" y1="849.50" x2="134.50" y2="1027.50" stroke="#000" stroke-width="1.4" />
<line x1="124.00" y1="1027.50" x2="1088.50" y2="1027.50" stroke="#000" stroke-width="1.5" />
<text x="163.00" y="741.00" font-size="27.5" >(BMDM)</text>
<text x="1170.00" y="618.70" font-size="38.5" font-weight="bold" stroke="#000" stroke-width="2.2" stroke-linejoin="round">c</text>
<line x1="1345.30" y1="632.00" x2="1345.30" y2="785.50" stroke="#000" stroke-width="1.4" />
<line x1="1345.30" y1="809.40" x2="1345.30" y2="872.00" stroke="#000" stroke-width="1.4" />
<line x1="1345.30" y1="919.00" x2="1345.30" y2="1031.00" stroke="#000" stroke-width="1.4" />
<line x1="1333.00" y1="632.00" x2="1345.30" y2="632.00" stroke="#000" stroke-width="1.4" />
<text x="1321.04" y="640.32" font-size="24" text-anchor="end" textLength="81.48" lengthAdjust="spacingAndGlyphs" >40,000</text>
<line x1="1333.00" y1="683.00" x2="1345.30" y2="683.00" stroke="#000" stroke-width="1.4" />
<text x="1321.04" y="691.32" font-size="24" text-anchor="end" textLength="81.48" lengthAdjust="spacingAndGlyphs" >30,000</text>
<line x1="1333.00" y1="734.40" x2="1345.30" y2="734.40" stroke="#000" stroke-width="1.4" />
<text x="1321.04" y="742.72" font-size="24" text-anchor="end" textLength="81.48" lengthAdjust="spacingAndGlyphs" >20,000</text>
<line x1="1333.00" y1="785.50" x2="1351.50" y2="785.50" stroke="#000" stroke-width="1.4" />
<text x="1321.04" y="793.82" font-size="24" text-anchor="end" textLength="81.48" lengthAdjust="spacingAndGlyphs" >10,000</text>
<line x1="1333.00" y1="809.40" x2="1351.50" y2="809.40" stroke="#000" stroke-width="1.4" />
<line x1="1333.00" y1="832.70" x2="1345.30" y2="832.70" stroke="#000" stroke-width="1.4" />
<text x="1321.04" y="841.02" font-size="24" text-anchor="end" textLength="66.67" lengthAdjust="spacingAndGlyphs" >6,000</text>
<line x1="1333.00" y1="872.00" x2="1351.50" y2="872.00" stroke="#000" stroke-width="1.4" />
<text x="1321.04" y="880.32" font-size="24" text-anchor="end" textLength="66.67" lengthAdjust="spacingAndGlyphs" >1,000</text>
<line x1="1333.00" y1="919.00" x2="1351.50" y2="919.00" stroke="#000" stroke-width="1.4" />
<text x="1321.04" y="927.32" font-size="24" text-anchor="end" textLength="44.45" lengthAdjust="spacingAndGlyphs" >500</text>
<line x1="1333.00" y1="974.70" x2="1345.30" y2="974.70" stroke="#000" stroke-width="1.4" />
<text x="1321.04" y="983.02" font-size="24" text-anchor="end" textLength="44.45" lengthAdjust="spacingAndGlyphs" >250</text>
<line x1="1333.00" y1="1031.00" x2="1345.30" y2="1031.00" stroke="#000" stroke-width="1.4" />
<text x="1321.04" y="1039.32" font-size="24" text-anchor="end" textLength="14.82" lengthAdjust="spacingAndGlyphs" >0</text>
<line x1="1333.00" y1="1031.00" x2="2161.40" y2="1031.00" stroke="#000" stroke-width="1.5" />
<line x1="1385.00" y1="1031.00" x2="1385.00" y2="1044.00" stroke="#000" stroke-width="1.5" />
<text x="1397.70" y="1066.30" font-size="28" text-anchor="end" textLength="50.69" lengthAdjust="spacingAndGlyphs" transform="rotate(-45 1397.70 1066.30)" >IL1B</text>
<line x1="1477.00" y1="1031.00" x2="1477.00" y2="1044.00" stroke="#000" stroke-width="1.5" />
<text x="1489.70" y="1066.30" font-size="28" text-anchor="end" textLength="76.70" lengthAdjust="spacingAndGlyphs" transform="rotate(-45 1489.70 1066.30)" >CCL22</text>
<line x1="1569.00" y1="1031.00" x2="1569.00" y2="1044.00" stroke="#000" stroke-width="1.5" />
<text x="1581.70" y="1066.30" font-size="28" text-anchor="end" textLength="63.44" lengthAdjust="spacingAndGlyphs" transform="rotate(-45 1581.70 1066.30)" >TGFβ</text>
<line x1="1661.00" y1="1031.00" x2="1661.00" y2="1044.00" stroke="#000" stroke-width="1.5" />
<text x="1673.70" y="1066.30" font-size="28" text-anchor="end" textLength="76.70" lengthAdjust="spacingAndGlyphs" transform="rotate(-45 1673.70 1066.30)" >CCL17</text>
<line x1="1753.00" y1="1031.00" x2="1753.00" y2="1044.00" stroke="#000" stroke-width="1.5" />
<text x="1765.70" y="1066.30" font-size="28" text-anchor="end" textLength="68.45" lengthAdjust="spacingAndGlyphs" transform="rotate(-45 1765.70 1066.30)" >GCSF</text>
<line x1="1845.00" y1="1031.00" x2="1845.00" y2="1044.00" stroke="#000" stroke-width="1.5" />
<text x="1857.70" y="1066.30" font-size="28" text-anchor="end" textLength="34.25" lengthAdjust="spacingAndGlyphs" transform="rotate(-45 1857.70 1066.30)" >IL6</text>
<line x1="1937.00" y1="1031.00" x2="1937.00" y2="1044.00" stroke="#000" stroke-width="1.5" />
<text x="1949.70" y="1066.30" font-size="28" text-anchor="end" textLength="47.96" lengthAdjust="spacingAndGlyphs" transform="rotate(-45 1949.70 1066.30)" >IL10</text>
<line x1="2029.00" y1="1031.00" x2="2029.00" y2="1044.00" stroke="#000" stroke-width="1.5" />
<text x="2041.70" y="1066.30" font-size="28" text-anchor="end" textLength="47.96" lengthAdjust="spacingAndGlyphs" transform="rotate(-45 2041.70 1066.30)" >IL12</text>
<line x1="2121.00" y1="1031.00" x2="2121.00" y2="1044.00" stroke="#000" stroke-width="1.5" />
<text x="2133.70" y="1066.30" font-size="28" text-anchor="end" textLength="62.14" lengthAdjust="spacingAndGlyphs" transform="rotate(-45 2133.70 1066.30)" >TNFα</text>
<text x="0" y="0" font-size="28" text-anchor="middle" transform="translate(1207.10 806.70) rotate(-90) scale(0.950 1)"><tspan dy="0.0">MFI (ng ml</tspan><tspan dy="-11.8" font-size="17.4">−1</tspan><tspan dy="11.8">)</tspan></text>
<rect x="1367.00" y="625.60" width="24.00" height="22.50" fill="#8299fd" stroke="#6a86fc" stroke-width="1.2" />
<rect x="1367.00" y="663.00" width="24.00" height="24.00" fill="#ff917d" stroke="#ff7b63" stroke-width="1.2" />
<text x="1405.00" y="646.70" font-size="27.5" >Saline</text>
<text x="1405.00" y="684.50" font-size="27.5" >C′ dot</text>
<text x="1361.70" y="727.00" font-size="27.5" >(BMDM)</text>
<text x="1656.93" y="666.80" font-size="27.5" fill="#c00000" textLength="91.65" lengthAdjust="spacingAndGlyphs" >Protein</text>
<rect x="1806.00" y="625.00" width="82.70" height="247.30" fill="none" stroke="#000" stroke-width="2.6" stroke-dasharray="8 5.5"/>
<rect x="1995.60" y="726.60" width="70.70" height="292.60" fill="none" stroke="#000" stroke-width="2.6" stroke-dasharray="8 5.5"/>
<rect x="2084.00" y="594.00" width="71.30" height="203.60" fill="none" stroke="#000" stroke-width="2.6" stroke-dasharray="8 5.5"/>
<text x="1818.42" y="671.32" font-size="35.94" >****</text>
<line x1="1838.00" y1="671.40" x2="1868.50" y2="671.40" stroke="#000" stroke-width="1.5" />
<text x="2011.45" y="767.50" font-size="34.16" >**</text>
<line x1="2011.00" y1="758.90" x2="2046.80" y2="758.90" stroke="#000" stroke-width="1.5" />
<text x="2099.43" y="642.93" font-size="35.22" >***</text>
<line x1="2103.50" y1="634.90" x2="2139.00" y2="634.90" stroke="#000" stroke-width="1.5" />
<path d="M1372.60,905.50 L1375.30,936.50 L1367.00,964.00 L1367.00,986.00 L1386.20,986.00 L1386.20,964.00 L1377.90,936.50 L1380.60,905.50 Z" fill="rgba(110,140,252,0.85)" stroke="#5a78f6" stroke-width="1.3" stroke-linejoin="round"/>
<line x1="1367.00" y1="973.00" x2="1386.20" y2="973.00" stroke="#5a78f6" stroke-width="1.3" stroke-dasharray="4 2"/>
<path d="M1405.40,998.00 L1408.90,1004.00 L1400.90,1009.00 L1400.90,1013.00 L1419.90,1013.00 L1419.90,1009.00 L1411.90,1004.00 L1415.40,998.00 Z" fill="rgba(252,130,110,0.85)" stroke="#f3705a" stroke-width="1.3" stroke-linejoin="round"/>
<line x1="1400.90" y1="1010.00" x2="1419.90" y2="1010.00" stroke="#f3705a" stroke-width="1.3" stroke-dasharray="4 2"/>
<path d="M1457.00,765.40 L1457.00,771.00 L1461.00,774.70 L1473.00,774.70 L1477.00,771.00 L1477.00,765.40 Z" fill="rgba(110,140,252,0.85)" stroke="#5a78f6" stroke-width="1.3" stroke-linejoin="round"/>
<line x1="1457.00" y1="767.60" x2="1477.00" y2="767.60" stroke="#5a78f6" stroke-width="1.3" stroke-dasharray="4 2"/>
<path d="M1463.00,797.00 L1465.70,815.00 L1462.00,825.00 L1462.00,830.50 L1472.00,830.50 L1472.00,825.00 L1468.30,815.00 L1471.00,797.00 Z" fill="rgba(110,140,252,0.85)" stroke="#5a78f6" stroke-width="1.3" stroke-linejoin="round"/>
<path d="M1492.00,733.00 L1496.50,745.00 L1493.50,760.00 L1492.00,774.70 L1511.00,774.70 L1509.50,760.00 L1506.50,745.00 L1511.00,733.00 Z" fill="rgba(252,130,110,0.85)" stroke="#f3705a" stroke-width="1.3" stroke-linejoin="round"/>
<line x1="1493.46" y1="760.40" x2="1509.54" y2="760.40" stroke="#f3705a" stroke-width="1.3" stroke-dasharray="4 2"/>
<path d="M1492.00,797.60 L1492.00,799.60 L1511.00,799.60 L1511.00,797.60 Z" fill="rgba(252,130,110,0.85)" stroke="#f3705a" stroke-width="1.3" stroke-linejoin="round"/>
<path d="M1548.40,944.30 L1551.00,952.00 L1556.00,970.00 L1548.40,984.00 L1548.40,992.30 L1567.60,992.30 L1567.60,984.00 L1560.00,970.00 L1565.00,952.00 L1567.60,944.30 Z" fill="rgba(110,140,252,0.85)" stroke="#5a78f6" stroke-width="1.3" stroke-linejoin="round"/>
<line x1="1548.40" y1="985.00" x2="1567.60" y2="985.00" stroke="#5a78f6" stroke-width="1.3" stroke-dasharray="4 2"/>
<path d="M1586.50,905.50 L1588.50,920.00 L1587.50,940.00 L1582.50,955.00 L1582.50,967.50 L1600.50,967.50 L1600.50,955.00 L1595.50,940.00 L1594.50,920.00 L1596.50,905.50 Z" fill="rgba(252,130,110,0.85)" stroke="#f3705a" stroke-width="1.3" stroke-linejoin="round"/>
<line x1="1582.50" y1="959.80" x2="1600.50" y2="959.80" stroke="#f3705a" stroke-width="1.3" stroke-dasharray="4 2"/>
<path d="M1639.00,983.00 L1639.00,987.00 L1645.00,993.00 L1645.00,999.00 L1651.00,999.00 L1651.00,993.00 L1657.00,987.00 L1657.00,983.00 Z" fill="rgba(110,140,252,0.85)" stroke="#5a78f6" stroke-width="1.3" stroke-linejoin="round"/>
<line x1="1639.00" y1="986.00" x2="1657.00" y2="986.00" stroke="#5a78f6" stroke-width="1.3" stroke-dasharray="4 2"/>
<path d="M1677.20,951.40 L1679.70,960.00 L1677.70,975.00 L1673.20,983.00 L1673.20,988.60 L1692.20,988.60 L1692.20,983.00 L1687.70,975.00 L1685.70,960.00 L1688.20,951.40 Z" fill="rgba(252,130,110,0.85)" stroke="#f3705a" stroke-width="1.3" stroke-linejoin="round"/>
<line x1="1673.20" y1="986.00" x2="1692.20" y2="986.00" stroke="#f3705a" stroke-width="1.3" stroke-dasharray="4 2"/>
<path d="M1730.00,934.30 L1731.00,955.00 L1730.00,975.00 L1730.00,1000.60 L1748.00,1000.60 L1748.00,975.00 L1747.00,955.00 L1748.00,934.30 Z" fill="rgba(110,140,252,0.85)" stroke="#5a78f6" stroke-width="1.3" stroke-linejoin="round"/>
<line x1="1730.22" y1="970.60" x2="1747.78" y2="970.60" stroke="#5a78f6" stroke-width="1.3" stroke-dasharray="4 2"/>
<path d="M1763.80,944.20 L1764.80,960.00 L1763.30,975.00 L1763.80,996.30 L1781.80,996.30 L1782.30,975.00 L1780.80,960.00 L1781.80,944.20 Z" fill="rgba(252,130,110,0.85)" stroke="#f3705a" stroke-width="1.3" stroke-linejoin="round"/>
<line x1="1763.53" y1="972.70" x2="1782.07" y2="972.70" stroke="#f3705a" stroke-width="1.3" stroke-dasharray="4 2"/>
<path d="M1820.40,797.00 L1821.00,802.00 L1827.50,814.00 L1825.50,825.00 L1824.50,831.00 L1835.50,831.00 L1834.50,825.00 L1832.50,814.00 L1839.00,802.00 L1839.60,797.00 Z" fill="rgba(110,140,252,0.85)" stroke="#5a78f6" stroke-width="1.3" stroke-linejoin="round"/>
<line x1="1820.70" y1="799.50" x2="1839.30" y2="799.50" stroke="#5a78f6" stroke-width="1.3" stroke-dasharray="4 2"/>
<path d="M1854.60,703.40 L1854.60,710.00 L1860.70,725.00 L1858.70,733.00 L1858.70,739.60 L1869.70,739.60 L1869.70,733.00 L1867.70,725.00 L1873.80,710.00 L1873.80,703.40 Z" fill="rgba(252,130,110,0.85)" stroke="#f3705a" stroke-width="1.3" stroke-linejoin="round"/>
<line x1="1854.60" y1="710.00" x2="1873.80" y2="710.00" stroke="#f3705a" stroke-width="1.3" stroke-dasharray="4 2"/>
<path d="M1913.50,947.30 L1914.50,955.00 L1911.50,965.00 L1911.10,986.70 L1929.90,986.70 L1929.50,965.00 L1926.50,955.00 L1927.50,947.30 Z" fill="rgba(110,140,252,0.85)" stroke="#5a78f6" stroke-width="1.3" stroke-linejoin="round"/>
<line x1="1911.45" y1="967.50" x2="1929.55" y2="967.50" stroke="#5a78f6" stroke-width="1.3" stroke-dasharray="4 2"/>
<path d="M1944.90,983.00 L1945.30,986.00 L1951.80,994.00 L1949.80,1001.60 L1958.80,1001.60 L1956.80,994.00 L1963.30,986.00 L1963.70,983.00 Z" fill="rgba(252,130,110,0.85)" stroke="#f3705a" stroke-width="1.3" stroke-linejoin="round"/>
<line x1="1945.10" y1="984.50" x2="1963.50" y2="984.50" stroke="#f3705a" stroke-width="1.3" stroke-dasharray="4 2"/>
<path d="M2005.20,960.30 L2009.20,975.00 L2003.20,985.00 L2001.20,1000.60 L2021.20,1000.60 L2019.20,985.00 L2013.20,975.00 L2017.20,960.30 Z" fill="rgba(110,140,252,0.85)" stroke="#5a78f6" stroke-width="1.3" stroke-linejoin="round"/>
<line x1="2002.47" y1="990.70" x2="2019.93" y2="990.70" stroke="#5a78f6" stroke-width="1.3" stroke-dasharray="4 2"/>
<path d="M2040.00,770.00 L2040.00,774.40 L2050.00,774.40 L2050.00,770.00 Z" fill="rgba(252,130,110,0.85)" stroke="#f3705a" stroke-width="1.3" stroke-linejoin="round"/>
<path d="M2042.20,797.00 L2038.70,810.00 L2035.20,818.00 L2035.00,823.30 L2054.40,823.30 L2054.20,818.00 L2050.70,810.00 L2047.20,797.00 Z" fill="rgba(252,130,110,0.85)" stroke="#f3705a" stroke-width="1.3" stroke-linejoin="round"/>
<line x1="2035.17" y1="818.70" x2="2054.23" y2="818.70" stroke="#f3705a" stroke-width="1.3" stroke-dasharray="4 2"/>
<path d="M2092.20,687.90 L2092.50,697.00 L2098.00,715.00 L2099.00,730.00 L2096.00,745.20 L2108.00,745.20 L2105.00,730.00 L2106.00,715.00 L2111.50,697.00 L2111.80,687.90 Z" fill="rgba(110,140,252,0.85)" stroke="#5a78f6" stroke-width="1.3" stroke-linejoin="round"/>
<line x1="2092.74" y1="697.80" x2="2111.26" y2="697.80" stroke="#5a78f6" stroke-width="1.3" stroke-dasharray="4 2"/>
<path d="M2130.80,658.00 L2134.30,663.00 L2129.80,666.00 L2126.30,669.00 L2145.30,669.00 L2141.80,666.00 L2137.30,663.00 L2140.80,658.00 Z" fill="rgba(252,130,110,0.85)" stroke="#f3705a" stroke-width="1.3" stroke-linejoin="round"/>
<line x1="2128.63" y1="667.00" x2="2142.97" y2="667.00" stroke="#f3705a" stroke-width="1.3" stroke-dasharray="4 2"/>
<text x="27.00" y="1204.00" font-size="38.5" font-weight="bold" stroke="#000" stroke-width="2.2" stroke-linejoin="round">d</text>
<line x1="136.00" y1="1248.60" x2="136.00" y2="1660.40" stroke="#000" stroke-width="1.4" />
<line x1="123.30" y1="1660.40" x2="136.00" y2="1660.40" stroke="#000" stroke-width="1.4" />
<text x="108.94" y="1668.72" font-size="24" text-anchor="end" >0</text>
<line x1="123.30" y1="1557.45" x2="136.00" y2="1557.45" stroke="#000" stroke-width="1.4" />
<text x="109.01" y="1565.77" font-size="24" text-anchor="end" >25</text>
<line x1="123.30" y1="1454.50" x2="136.00" y2="1454.50" stroke="#000" stroke-width="1.4" />
<text x="108.94" y="1462.82" font-size="24" text-anchor="end" >50</text>
<line x1="123.30" y1="1351.55" x2="136.00" y2="1351.55" stroke="#000" stroke-width="1.4" />
<text x="109.01" y="1359.87" font-size="24" text-anchor="end" >75</text>
<line x1="123.30" y1="1248.60" x2="136.00" y2="1248.60" stroke="#000" stroke-width="1.4" />
<text x="108.94" y="1256.92" font-size="24" text-anchor="end" >100</text>
<text x="47.50" y="1534.62" font-size="28.5" textLength="160.80" lengthAdjust="spacingAndGlyphs" transform="rotate(-90 47.50 1534.62)" >Live cells (%)</text>
<line x1="123.30" y1="1660.40" x2="957.60" y2="1660.40" stroke="#000" stroke-width="1.5" />
<line x1="196.50" y1="1660.40" x2="196.50" y2="1672.00" stroke="#000" stroke-width="1.5" />
<rect x="154.70" y="1428.60" width="31.80" height="231.80" fill="#8299fd" stroke="#6a86fc" stroke-width="1.3" />
<line x1="170.60" y1="1428.60" x2="170.60" y2="1394.30" stroke="#6a86fc" stroke-width="1.3" />
<line x1="163.60" y1="1394.30" x2="177.60" y2="1394.30" stroke="#6a86fc" stroke-width="1.3" />
<rect x="206.60" y="1463.00" width="31.80" height="197.40" fill="#ff917d" stroke="#ff7b63" stroke-width="1.3" />
<line x1="222.50" y1="1463.00" x2="222.50" y2="1445.90" stroke="#ff7b63" stroke-width="1.3" />
<line x1="215.50" y1="1445.90" x2="229.50" y2="1445.90" stroke="#ff7b63" stroke-width="1.3" />
<circle cx="158.30" cy="1393.60" r="5.40" fill="rgba(45,85,255,0.6)" />
<circle cx="182.60" cy="1395.40" r="5.40" fill="rgba(45,85,255,0.6)" />
<circle cx="170.20" cy="1491.70" r="5.40" fill="rgba(45,85,255,0.6)" />
<rect x="217.10" y="1434.30" width="10.80" height="10.80" fill="rgba(255,55,25,0.55)" />
<rect x="217.10" y="1448.40" width="10.80" height="10.80" fill="rgba(255,55,25,0.55)" />
<rect x="217.10" y="1484.60" width="10.80" height="10.80" fill="rgba(255,55,25,0.55)" />
<text x="212.00" y="1696.30" font-size="28.8" text-anchor="end" transform="rotate(-45 212.00 1696.30)" >M0</text>
<line x1="336.50" y1="1660.40" x2="336.50" y2="1672.00" stroke="#000" stroke-width="1.5" />
<rect x="294.70" y="1611.80" width="31.80" height="48.60" fill="#8299fd" stroke="#6a86fc" stroke-width="1.3" />
<line x1="310.60" y1="1611.80" x2="310.60" y2="1607.00" stroke="#6a86fc" stroke-width="1.3" />
<line x1="303.60" y1="1607.00" x2="317.60" y2="1607.00" stroke="#6a86fc" stroke-width="1.3" />
<rect x="346.60" y="1502.50" width="31.80" height="157.90" fill="#ff917d" stroke="#ff7b63" stroke-width="1.3" />
<line x1="362.50" y1="1502.50" x2="362.50" y2="1497.00" stroke="#ff7b63" stroke-width="1.3" />
<line x1="355.50" y1="1497.00" x2="369.50" y2="1497.00" stroke="#ff7b63" stroke-width="1.3" />
<circle cx="299.60" cy="1603.50" r="5.40" fill="rgba(45,85,255,0.6)" />
<circle cx="299.60" cy="1615.40" r="5.40" fill="rgba(45,85,255,0.6)" />
<circle cx="323.10" cy="1610.70" r="5.40" fill="rgba(45,85,255,0.6)" />
<rect x="345.10" y="1489.20" width="10.80" height="10.80" fill="rgba(255,55,25,0.55)" />
<rect x="345.10" y="1503.60" width="10.80" height="10.80" fill="rgba(255,55,25,0.55)" />
<rect x="369.10" y="1494.60" width="10.80" height="10.80" fill="rgba(255,55,25,0.55)" />
<text x="352.00" y="1696.30" font-size="28.8" text-anchor="end" transform="rotate(-45 352.00 1696.30)" >M1</text>
<line x1="476.50" y1="1660.40" x2="476.50" y2="1672.00" stroke="#000" stroke-width="1.5" />
<rect x="434.70" y="1563.00" width="31.80" height="97.40" fill="#8299fd" stroke="#6a86fc" stroke-width="1.3" />
<line x1="450.60" y1="1563.00" x2="450.60" y2="1550.50" stroke="#6a86fc" stroke-width="1.3" />
<line x1="443.60" y1="1550.50" x2="457.60" y2="1550.50" stroke="#6a86fc" stroke-width="1.3" />
<rect x="486.60" y="1619.00" width="31.80" height="41.40" fill="#ff917d" stroke="#ff7b63" stroke-width="1.3" />
<line x1="502.50" y1="1619.00" x2="502.50" y2="1616.00" stroke="#ff7b63" stroke-width="1.3" />
<line x1="495.50" y1="1616.00" x2="509.50" y2="1616.00" stroke="#ff7b63" stroke-width="1.3" />
<circle cx="450.60" cy="1539.60" r="5.40" fill="rgba(45,85,255,0.6)" />
<circle cx="438.60" cy="1574.00" r="5.40" fill="rgba(45,85,255,0.6)" />
<circle cx="462.60" cy="1568.50" r="5.40" fill="rgba(45,85,255,0.6)" />
<rect x="485.10" y="1615.60" width="10.80" height="10.80" fill="rgba(255,55,25,0.55)" />
<rect x="497.10" y="1608.60" width="10.80" height="10.80" fill="rgba(255,55,25,0.55)" />
<rect x="509.10" y="1611.60" width="10.80" height="10.80" fill="rgba(255,55,25,0.55)" />
<text x="492.00" y="1696.30" font-size="28.8" text-anchor="end" transform="rotate(-45 492.00 1696.30)" >M2</text>
<line x1="616.50" y1="1660.40" x2="616.50" y2="1672.00" stroke="#000" stroke-width="1.5" />
<rect x="574.70" y="1325.80" width="31.80" height="334.60" fill="#8299fd" stroke="#6a86fc" stroke-width="1.3" />
<line x1="590.60" y1="1325.80" x2="590.60" y2="1312.40" stroke="#6a86fc" stroke-width="1.3" />
<line x1="583.60" y1="1312.40" x2="597.60" y2="1312.40" stroke="#6a86fc" stroke-width="1.3" />
<rect x="626.60" y="1655.00" width="31.80" height="5.40" fill="#ff917d" stroke="#ff7b63" stroke-width="1.3" />
<line x1="642.50" y1="1655.00" x2="642.50" y2="1653.00" stroke="#ff7b63" stroke-width="1.3" />
<line x1="635.50" y1="1653.00" x2="649.50" y2="1653.00" stroke="#ff7b63" stroke-width="1.3" />
<circle cx="578.60" cy="1308.80" r="5.40" fill="rgba(45,85,255,0.6)" />
<circle cx="602.60" cy="1316.80" r="5.40" fill="rgba(45,85,255,0.6)" />
<circle cx="590.60" cy="1346.30" r="5.40" fill="rgba(45,85,255,0.6)" />
<rect x="625.10" y="1651.60" width="10.80" height="10.80" fill="rgba(255,55,25,0.55)" />
<rect x="637.10" y="1646.60" width="10.80" height="10.80" fill="rgba(255,55,25,0.55)" />
<rect x="649.10" y="1648.60" width="10.80" height="10.80" fill="rgba(255,55,25,0.55)" />
<text x="632.00" y="1696.30" font-size="28.8" text-anchor="end" transform="rotate(-45 632.00 1696.30)" >MDSC</text>
<line x1="756.50" y1="1660.40" x2="756.50" y2="1672.00" stroke="#000" stroke-width="1.5" />
<rect x="714.70" y="1649.00" width="31.80" height="11.40" fill="#8299fd" stroke="#6a86fc" stroke-width="1.3" />
<line x1="730.60" y1="1649.00" x2="730.60" y2="1645.00" stroke="#6a86fc" stroke-width="1.3" />
<line x1="723.60" y1="1645.00" x2="737.60" y2="1645.00" stroke="#6a86fc" stroke-width="1.3" />
<rect x="766.60" y="1517.00" width="31.80" height="143.40" fill="#ff917d" stroke="#ff7b63" stroke-width="1.3" />
<line x1="782.50" y1="1517.00" x2="782.50" y2="1513.00" stroke="#ff7b63" stroke-width="1.3" />
<line x1="775.50" y1="1513.00" x2="789.50" y2="1513.00" stroke="#ff7b63" stroke-width="1.3" />
<circle cx="718.60" cy="1653.00" r="5.40" fill="rgba(45,85,255,0.6)" />
<circle cx="730.60" cy="1643.00" r="5.40" fill="rgba(45,85,255,0.6)" />
<circle cx="742.60" cy="1643.00" r="5.40" fill="rgba(45,85,255,0.6)" />
<rect x="765.10" y="1515.10" width="10.80" height="10.80" fill="rgba(255,55,25,0.55)" />
<rect x="777.10" y="1506.60" width="10.80" height="10.80" fill="rgba(255,55,25,0.55)" />
<rect x="789.10" y="1510.60" width="10.80" height="10.80" fill="rgba(255,55,25,0.55)" />
<text x="772.00" y="1696.30" font-size="28.8" text-anchor="end" transform="rotate(-45 772.00 1696.30)" >Neutrophils</text>
<line x1="896.50" y1="1660.40" x2="896.50" y2="1672.00" stroke="#000" stroke-width="1.5" />
<rect x="854.70" y="1451.30" width="31.80" height="209.10" fill="#8299fd" stroke="#6a86fc" stroke-width="1.3" />
<line x1="870.60" y1="1451.30" x2="870.60" y2="1448.00" stroke="#6a86fc" stroke-width="1.3" />
<line x1="863.60" y1="1448.00" x2="877.60" y2="1448.00" stroke="#6a86fc" stroke-width="1.3" />
<rect x="906.60" y="1565.60" width="31.80" height="94.80" fill="#ff917d" stroke="#ff7b63" stroke-width="1.3" />
<line x1="922.50" y1="1565.60" x2="922.50" y2="1555.90" stroke="#ff7b63" stroke-width="1.3" />
<line x1="915.50" y1="1555.90" x2="929.50" y2="1555.90" stroke="#ff7b63" stroke-width="1.3" />
<circle cx="858.60" cy="1443.40" r="5.40" fill="rgba(45,85,255,0.6)" />
<circle cx="858.60" cy="1455.60" r="5.40" fill="rgba(45,85,255,0.6)" />
<circle cx="882.60" cy="1450.20" r="5.40" fill="rgba(45,85,255,0.6)" />
<rect x="905.10" y="1546.90" width="10.80" height="10.80" fill="rgba(255,55,25,0.55)" />
<rect x="929.10" y="1555.90" width="10.80" height="10.80" fill="rgba(255,55,25,0.55)" />
<rect x="917.10" y="1572.10" width="10.80" height="10.80" fill="rgba(255,55,25,0.55)" />
<text x="912.00" y="1696.30" font-size="28.8" text-anchor="end" transform="rotate(-45 912.00 1696.30)" >Monocytes</text>
<text x="305.20" y="1466.04" font-size="37.12" >****</text>
<line x1="310.00" y1="1467.50" x2="363.50" y2="1467.50" stroke="#000" stroke-width="1.5" />
<text x="461.02" y="1513.28" font-size="36.16" >**</text>
<line x1="450.80" y1="1517.30" x2="503.80" y2="1517.30" stroke="#000" stroke-width="1.5" />
<text x="589.90" y="1273.22" font-size="37.38" >****</text>
<line x1="589.80" y1="1276.70" x2="643.20" y2="1276.70" stroke="#000" stroke-width="1.5" />
<text x="726.31" y="1483.11" font-size="36.79" >****</text>
<line x1="729.70" y1="1488.00" x2="783.00" y2="1488.00" stroke="#000" stroke-width="1.5" />
<text x="870.40" y="1411.98" font-size="37.18" >****</text>
<line x1="870.00" y1="1416.00" x2="923.00" y2="1416.00" stroke="#000" stroke-width="1.5" />
<text x="608.41" y="1243.88" font-size="36.59" >****</text>
<rect x="179.00" y="1245.00" width="24.00" height="23.00" fill="#8299fd" stroke="#6a86fc" stroke-width="1.2" />
<rect x="179.00" y="1283.60" width="24.00" height="22.70" fill="#ff917d" stroke="#ff7b63" stroke-width="1.2" />
<text x="216.40" y="1266.60" font-size="27.5" >Saline</text>
<text x="216.40" y="1304.00" font-size="27.5" >C′ dot</text>
<line x1="123.30" y1="1660.40" x2="957.60" y2="1660.40" stroke="#000" stroke-width="1.5" />
<text x="1059.50" y="1318.50" font-size="38.5" font-weight="bold" stroke="#000" stroke-width="2.2" stroke-linejoin="round">e</text>
<text x="1190.65" y="1326.00" font-size="27.5" textLength="170.69" lengthAdjust="spacingAndGlyphs" >Phagocytosis</text>
<line x1="1196.00" y1="1392.00" x2="1196.00" y2="1660.30" stroke="#000" stroke-width="1.4" />
<line x1="1183.30" y1="1660.30" x2="1196.00" y2="1660.30" stroke="#000" stroke-width="1.4" />
<text x="1169.74" y="1668.62" font-size="24" text-anchor="end" >0</text>
<line x1="1183.30" y1="1606.64" x2="1196.00" y2="1606.64" stroke="#000" stroke-width="1.4" />
<text x="1169.74" y="1614.96" font-size="24" text-anchor="end" >10</text>
<line x1="1183.30" y1="1552.98" x2="1196.00" y2="1552.98" stroke="#000" stroke-width="1.4" />
<text x="1169.74" y="1561.30" font-size="24" text-anchor="end" >20</text>
<line x1="1183.30" y1="1499.32" x2="1196.00" y2="1499.32" stroke="#000" stroke-width="1.4" />
<text x="1169.74" y="1507.64" font-size="24" text-anchor="end" >30</text>
<line x1="1183.30" y1="1445.66" x2="1196.00" y2="1445.66" stroke="#000" stroke-width="1.4" />
<text x="1169.74" y="1453.98" font-size="24" text-anchor="end" >40</text>
<line x1="1183.30" y1="1392.00" x2="1196.00" y2="1392.00" stroke="#000" stroke-width="1.4" />
<text x="1169.74" y="1400.32" font-size="24" text-anchor="end" >50</text>
<line x1="1183.30" y1="1660.30" x2="1396.70" y2="1660.30" stroke="#000" stroke-width="1.5" />
<line x1="1253.60" y1="1660.30" x2="1253.60" y2="1673.00" stroke="#000" stroke-width="1.5" />
<text x="1262.30" y="1691.70" font-size="28.4" text-anchor="end" transform="rotate(-45 1262.30 1691.70)" >Saline</text>
<line x1="1340.00" y1="1660.30" x2="1340.00" y2="1673.00" stroke="#000" stroke-width="1.5" />
<text x="1354.50" y="1694.00" font-size="28.4" text-anchor="end" transform="rotate(-45 1354.50 1694.00)" >C′ dot</text>
<rect x="1225.80" y="1547.90" width="54.20" height="112.40" fill="#8299fd" stroke="#6a86fc" stroke-width="1.3" />
<rect x="1312.00" y="1431.20" width="53.80" height="229.10" fill="#ff917d" stroke="#ff7b63" stroke-width="1.3" />
<line x1="1253.60" y1="1545.00" x2="1253.60" y2="1538.20" stroke="#6a86fc" stroke-width="1.3" />
<line x1="1239.35" y1="1538.20" x2="1267.85" y2="1538.20" stroke="#6a86fc" stroke-width="1.3" />
<line x1="1253.60" y1="1545.00" x2="1253.60" y2="1553.30" stroke="#6a86fc" stroke-width="1.3" />
<line x1="1239.35" y1="1553.30" x2="1267.85" y2="1553.30" stroke="#6a86fc" stroke-width="1.3" />
<line x1="1340.00" y1="1431.20" x2="1340.00" y2="1427.00" stroke="#ff7b63" stroke-width="1.3" />
<line x1="1325.00" y1="1427.00" x2="1355.00" y2="1427.00" stroke="#ff7b63" stroke-width="1.3" />
<line x1="1340.00" y1="1431.20" x2="1340.00" y2="1434.00" stroke="#ff7b63" stroke-width="1.3" />
<line x1="1325.00" y1="1434.00" x2="1355.00" y2="1434.00" stroke="#ff7b63" stroke-width="1.3" />
<circle cx="1253.60" cy="1533.00" r="4.60" fill="rgba(45,85,255,0.6)" />
<circle cx="1253.60" cy="1544.20" r="4.60" fill="rgba(45,85,255,0.6)" />
<circle cx="1253.60" cy="1560.00" r="4.60" fill="rgba(45,85,255,0.6)" />
<circle cx="1323.30" cy="1433.60" r="4.60" fill="rgba(255,55,25,0.55)" />
<circle cx="1339.40" cy="1426.00" r="4.60" fill="rgba(255,55,25,0.55)" />
<circle cx="1355.00" cy="1427.60" r="4.60" fill="rgba(255,55,25,0.55)" />
<text x="1270.43" y="1401.23" font-size="35.22" >***</text>
<line x1="1253.00" y1="1394.20" x2="1340.00" y2="1394.20" stroke="#000" stroke-width="1.5" />
<line x1="1183.30" y1="1660.30" x2="1396.70" y2="1660.30" stroke="#000" stroke-width="1.5" />
<text x="1081.20" y="1609.59" font-size="28.4" textLength="166.10" lengthAdjust="spacingAndGlyphs" transform="rotate(-90 1081.20 1609.59)" >Phagocytosis</text>
<text x="0" y="0" font-size="28" text-anchor="middle" transform="translate(1115.40 1527.00) rotate(-90) scale(0.925 1)"><tspan dy="0.0">(CFSE</tspan><tspan dy="-11.8" font-size="17.4">+</tspan><tspan dy="11.8"> of CD11b</tspan><tspan dy="-11.8" font-size="17.4">+</tspan><tspan dy="11.8"> cells) (%)</tspan></text>
<text x="1466.00" y="1321.00" font-size="38.5" font-weight="bold" stroke="#000" stroke-width="2.2" stroke-linejoin="round">f</text>
<text x="1625.89" y="1326.70" font-size="27.5" textLength="106.27" lengthAdjust="spacingAndGlyphs" >Type I IFN</text>
<line x1="1605.20" y1="1389.70" x2="1605.20" y2="1657.30" stroke="#000" stroke-width="1.4" />
<line x1="1593.00" y1="1657.30" x2="1605.20" y2="1657.30" stroke="#000" stroke-width="1.4" />
<text x="1582.74" y="1665.62" font-size="24" text-anchor="end" >0</text>
<line x1="1593.00" y1="1568.10" x2="1605.20" y2="1568.10" stroke="#000" stroke-width="1.4" />
<text x="1582.97" y="1576.42" font-size="24" text-anchor="end" >0.1</text>
<line x1="1593.00" y1="1478.90" x2="1605.20" y2="1478.90" stroke="#000" stroke-width="1.4" />
<text x="1583.01" y="1487.22" font-size="24" text-anchor="end" >0.2</text>
<line x1="1593.00" y1="1389.70" x2="1605.20" y2="1389.70" stroke="#000" stroke-width="1.4" />
<text x="1582.85" y="1398.02" font-size="24" text-anchor="end" >0.3</text>
<line x1="1593.00" y1="1657.30" x2="1806.70" y2="1657.30" stroke="#000" stroke-width="1.5" />
<line x1="1662.70" y1="1657.30" x2="1662.70" y2="1669.40" stroke="#000" stroke-width="1.5" />
<text x="1673.90" y="1691.70" font-size="28.4" text-anchor="end" transform="rotate(-45 1673.90 1691.70)" >Saline</text>
<line x1="1749.00" y1="1657.30" x2="1749.00" y2="1669.40" stroke="#000" stroke-width="1.5" />
<text x="1760.20" y="1691.70" font-size="28.4" text-anchor="end" transform="rotate(-45 1760.20 1691.70)" >C′ dots</text>
<rect x="1635.50" y="1513.00" width="53.90" height="144.30" fill="#8299fd" stroke="#6a86fc" stroke-width="1.3" />
<rect x="1721.80" y="1449.40" width="53.70" height="207.90" fill="#ff917d" stroke="#ff7b63" stroke-width="1.3" />
<line x1="1662.70" y1="1513.00" x2="1662.70" y2="1504.20" stroke="#6a86fc" stroke-width="1.3" />
<line x1="1648.30" y1="1504.20" x2="1677.10" y2="1504.20" stroke="#6a86fc" stroke-width="1.3" />
<line x1="1662.70" y1="1513.00" x2="1662.70" y2="1517.90" stroke="#6a86fc" stroke-width="1.3" />
<line x1="1648.30" y1="1517.90" x2="1677.10" y2="1517.90" stroke="#6a86fc" stroke-width="1.3" />
<line x1="1749.00" y1="1449.40" x2="1749.00" y2="1436.70" stroke="#ff7b63" stroke-width="1.3" />
<line x1="1734.35" y1="1436.70" x2="1763.65" y2="1436.70" stroke="#ff7b63" stroke-width="1.3" />
<line x1="1749.00" y1="1449.40" x2="1749.00" y2="1457.90" stroke="#ff7b63" stroke-width="1.3" />
<line x1="1734.35" y1="1457.90" x2="1763.65" y2="1457.90" stroke="#ff7b63" stroke-width="1.3" />
<circle cx="1654.50" cy="1504.20" r="4.60" fill="rgba(45,85,255,0.6)" />
<circle cx="1671.00" cy="1504.20" r="4.60" fill="rgba(45,85,255,0.6)" />
<circle cx="1662.70" cy="1524.50" r="4.60" fill="rgba(45,85,255,0.6)" />
<circle cx="1748.50" cy="1426.00" r="4.60" fill="rgba(255,55,25,0.55)" />
<circle cx="1740.60" cy="1460.30" r="4.60" fill="rgba(255,55,25,0.55)" />
<circle cx="1756.70" cy="1454.80" r="4.60" fill="rgba(255,55,25,0.55)" />
<text x="1696.43" y="1390.64" font-size="35.23" >**</text>
<line x1="1662.00" y1="1394.20" x2="1749.00" y2="1394.20" stroke="#000" stroke-width="1.5" />
<line x1="1593.00" y1="1657.30" x2="1806.70" y2="1657.30" stroke="#000" stroke-width="1.5" />
<text x="1487.50" y="1669.93" font-size="28" textLength="292.06" lengthAdjust="spacingAndGlyphs" transform="rotate(-90 1487.50 1669.93)" >Background subtracted</text>
<text x="1521.00" y="1595.53" font-size="28" textLength="144.09" lengthAdjust="spacingAndGlyphs" transform="rotate(-90 1521.00 1595.53)" >OD 620 nm</text>
<text x="1845.50" y="1322.00" font-size="38.5" font-weight="bold" stroke="#000" stroke-width="2.2" stroke-linejoin="round">g</text>
<text x="1994.65" y="1329.00" font-size="27.5" textLength="93.48" lengthAdjust="spacingAndGlyphs" >cGAMP</text>
<line x1="1971.50" y1="1400.30" x2="1971.50" y2="1660.00" stroke="#000" stroke-width="1.4" />
<line x1="1959.40" y1="1660.00" x2="1971.50" y2="1660.00" stroke="#000" stroke-width="1.4" />
<text x="1950.64" y="1668.32" font-size="24" text-anchor="end" >0.0</text>
<line x1="1959.40" y1="1608.06" x2="1971.50" y2="1608.06" stroke="#000" stroke-width="1.4" />
<text x="1950.91" y="1616.38" font-size="24" text-anchor="end" >0.2</text>
<line x1="1959.40" y1="1556.12" x2="1971.50" y2="1556.12" stroke="#000" stroke-width="1.4" />
<text x="1950.40" y="1564.44" font-size="24" text-anchor="end" >0.4</text>
<line x1="1959.40" y1="1504.18" x2="1971.50" y2="1504.18" stroke="#000" stroke-width="1.4" />
<text x="1950.75" y="1512.50" font-size="24" text-anchor="end" >0.6</text>
<line x1="1959.40" y1="1452.24" x2="1971.50" y2="1452.24" stroke="#000" stroke-width="1.4" />
<text x="1950.74" y="1460.56" font-size="24" text-anchor="end" >0.8</text>
<line x1="1959.40" y1="1400.30" x2="1971.50" y2="1400.30" stroke="#000" stroke-width="1.4" />
<text x="1950.64" y="1408.62" font-size="24" text-anchor="end" >1.0</text>
<line x1="1959.40" y1="1660.00" x2="2167.00" y2="1660.00" stroke="#000" stroke-width="1.5" />
<line x1="2027.00" y1="1660.00" x2="2027.00" y2="1671.50" stroke="#000" stroke-width="1.5" />
<text x="2035.70" y="1691.70" font-size="28.4" text-anchor="end" transform="rotate(-45 2035.70 1691.70)" >Saline</text>
<line x1="2111.00" y1="1660.00" x2="2111.00" y2="1671.50" stroke="#000" stroke-width="1.5" />
<text x="2125.50" y="1694.00" font-size="28.4" text-anchor="end" transform="rotate(-45 2125.50 1694.00)" >C′ dots</text>
<rect x="2001.20" y="1475.20" width="52.10" height="184.80" fill="#8299fd" stroke="#6a86fc" stroke-width="1.3" />
<rect x="2085.20" y="1426.00" width="52.10" height="234.00" fill="#ff917d" stroke="#ff7b63" stroke-width="1.3" />
<line x1="2027.00" y1="1475.20" x2="2027.00" y2="1463.30" stroke="#6a86fc" stroke-width="1.3" />
<line x1="2012.60" y1="1463.30" x2="2041.40" y2="1463.30" stroke="#6a86fc" stroke-width="1.3" />
<line x1="2027.00" y1="1475.20" x2="2027.00" y2="1487.00" stroke="#6a86fc" stroke-width="1.3" />
<line x1="2012.60" y1="1487.00" x2="2041.40" y2="1487.00" stroke="#6a86fc" stroke-width="1.3" />
<line x1="2111.00" y1="1426.00" x2="2111.00" y2="1417.60" stroke="#ff7b63" stroke-width="1.3" />
<line x1="2096.85" y1="1417.60" x2="2125.15" y2="1417.60" stroke="#ff7b63" stroke-width="1.3" />
<line x1="2111.00" y1="1426.00" x2="2111.00" y2="1434.00" stroke="#ff7b63" stroke-width="1.3" />
<line x1="2096.85" y1="1434.00" x2="2125.15" y2="1434.00" stroke="#ff7b63" stroke-width="1.3" />
<circle cx="2019.40" cy="1457.30" r="4.60" fill="rgba(45,85,255,0.6)" />
<circle cx="2035.20" cy="1455.50" r="4.60" fill="rgba(45,85,255,0.6)" />
<circle cx="2019.40" cy="1492.00" r="4.60" fill="rgba(45,85,255,0.6)" />
<circle cx="2035.20" cy="1487.30" r="4.60" fill="rgba(45,85,255,0.6)" />
<circle cx="2111.00" cy="1404.80" r="4.60" fill="rgba(255,55,25,0.55)" />
<circle cx="2102.70" cy="1427.60" r="4.60" fill="rgba(255,55,25,0.55)" />
<circle cx="2119.00" cy="1427.60" r="4.60" fill="rgba(255,55,25,0.55)" />
<circle cx="2111.00" cy="1436.00" r="4.60" fill="rgba(255,55,25,0.55)" />
<text x="2055.23" y="1372.94" font-size="35.09" >**</text>
<line x1="2027.00" y1="1374.00" x2="2111.50" y2="1374.00" stroke="#000" stroke-width="1.5" />
<line x1="1959.40" y1="1660.00" x2="2167.00" y2="1660.00" stroke="#000" stroke-width="1.5" />
<text x="1864.50" y="1670.84" font-size="28" textLength="293.68" lengthAdjust="spacingAndGlyphs" transform="rotate(-90 1864.50 1670.84)" >Background subtracted</text>
<text x="1898.00" y="1595.34" font-size="28" textLength="144.19" lengthAdjust="spacingAndGlyphs" transform="rotate(-90 1898.00 1595.34)" >OD 620 nm</text>
</svg>
</body></html>
